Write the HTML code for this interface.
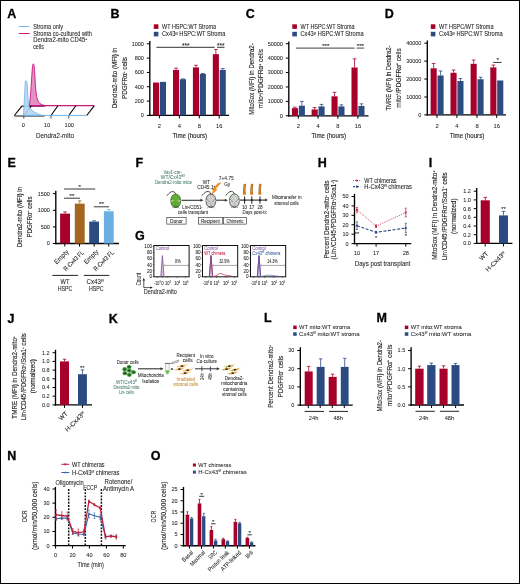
<!DOCTYPE html>
<html><head><meta charset="utf-8"><style>
html,body{margin:0;padding:0;background:#fff;}
svg{display:block;will-change:transform;}
</style></head><body>
<svg width="520" height="584" viewBox="0 0 520 584" font-family="'Liberation Sans', sans-serif" font-size="5.5" fill="#231f20">
<rect x="0" y="0" width="520" height="584" fill="#fff"/>
<text x="7.3" y="17.6" font-weight="bold" fill="#000" font-size="12.5" stroke="#000" stroke-width="0.3">A</text>
<line x1="18.8" y1="26.5" x2="29.6" y2="26.5" stroke="#7fb6e6" stroke-width="1"/>
<line x1="18.8" y1="33.5" x2="29.6" y2="33.5" stroke="#cc1f86" stroke-width="1"/>
<text x="33.2" y="28.8" stroke="#231f20" stroke-width="0.08" textLength="29.8" lengthAdjust="spacingAndGlyphs" font-size="6.27">Stroma only</text>
<text x="33.2" y="35.6" stroke="#231f20" stroke-width="0.08" textLength="58.7" lengthAdjust="spacingAndGlyphs" font-size="6.27">Stroma co-cultured with</text>
<text x="33.2" y="42.3" stroke="#231f20" stroke-width="0.08" textLength="54" lengthAdjust="spacingAndGlyphs" font-size="6.27">Dendra2-mito CD45<tspan font-size="3.6" dy="-2">+</tspan></text>
<text x="33.2" y="49.1" stroke="#231f20" stroke-width="0.08" textLength="10.6" lengthAdjust="spacingAndGlyphs" font-size="6.27">cells</text>
<line x1="22.1" y1="106.1" x2="44.5" y2="106.1" stroke="#000" stroke-width="1"/>
<path d="M29.3 105.8 C30.3 100 31.2 85 32.2 70 C32.6 64 33.0 63.8 33.4 63.8 C34.0 63.8 34.4 68 34.9 76 C35.5 88 36.2 96 37.6 100 C39 103.4 41 104.8 44.5 105.4 L46 105.8 Z" fill="#e591c3" stroke="#c8197f" stroke-width="0.9"/>
<line x1="29.3" y1="105.6" x2="94.4" y2="105.6" stroke="#c8197f" stroke-width="1.1"/>
<line x1="14.3" y1="115.5" x2="22.1" y2="105.8" stroke="#000" stroke-width="1.1"/>
<line x1="23.8" y1="115.5" x2="31.3" y2="105.8" stroke="#000" stroke-width="1.1"/>
<line x1="23.8" y1="115.5" x2="23.8" y2="118.6" stroke="#222" stroke-width="0.8"/>
<line x1="51" y1="115.5" x2="57.9" y2="105.8" stroke="#000" stroke-width="1.1"/>
<line x1="51" y1="115.5" x2="51" y2="118.6" stroke="#222" stroke-width="0.8"/>
<line x1="68.8" y1="115.5" x2="75.8" y2="105.8" stroke="#000" stroke-width="1.1"/>
<line x1="68.8" y1="115.5" x2="68.8" y2="118.6" stroke="#222" stroke-width="0.8"/>
<line x1="86.7" y1="115.5" x2="94.2" y2="105.8" stroke="#000" stroke-width="1.1"/>
<line x1="14.3" y1="116" x2="44.6" y2="116" stroke="#111" stroke-width="1"/>
<path d="M23.3 115.5 C24 110 24.6 92 25.3 82 C25.6 80.3 26.2 80.3 26.5 81.5 C27 83 27.3 84 27.5 88 C27.8 96 28.2 103 29 106.5 C30 109 32 110.5 34.5 112 C37 113.6 39 114.6 41.5 115.2 Z" fill="#b3d5f2" fill-opacity="0.9" stroke="#72b2e6" stroke-width="0.8"/>
<line x1="23.3" y1="115.4" x2="86.7" y2="115.4" stroke="#72b2e6" stroke-width="1"/>
<text x="23.2" y="127.06" stroke="#231f20" stroke-width="0.06" font-size="5.6" text-anchor="middle">0</text>
<text x="47" y="127.06" stroke="#231f20" stroke-width="0.06" textLength="6.2" lengthAdjust="spacingAndGlyphs" font-size="5.6" text-anchor="middle">10</text>
<text x="69.2" y="127.06" stroke="#231f20" stroke-width="0.06" textLength="9.3" lengthAdjust="spacingAndGlyphs" font-size="5.6" text-anchor="middle">100</text>
<text x="54.9" y="137.77" stroke="#231f20" stroke-width="0.08" textLength="38" lengthAdjust="spacingAndGlyphs" font-size="7.06" text-anchor="middle">Dendra2-mito</text>
<text x="110.6" y="17.6" font-weight="bold" fill="#000" font-size="12.5" stroke="#000" stroke-width="0.3">B</text>
<rect x="153.8" y="24.3" width="4.6" height="4.6" fill="#a6002b"/>
<rect x="153.8" y="31.8" width="4.6" height="4.6" fill="#2c4b80"/>
<text x="162" y="28.87" stroke="#231f20" stroke-width="0.08" textLength="54" lengthAdjust="spacingAndGlyphs" font-size="6.5">WT HSPC:WT Stroma</text>
<text x="162" y="36.37" stroke="#231f20" stroke-width="0.08" textLength="63.4" lengthAdjust="spacingAndGlyphs" font-size="6.5">Cx43<tspan font-size="3.3" dy="-1.8">f/f</tspan><tspan dy="1.8"> </tspan>HSPC:WT Stroma</text>
<line x1="149.8" y1="41" x2="149.8" y2="116.08" stroke="#000" stroke-width="1.35"/>
<line x1="149.12" y1="115.4" x2="229" y2="115.4" stroke="#000" stroke-width="1.35"/>
<line x1="146.8" y1="115.4" x2="149.8" y2="115.4" stroke="#000" stroke-width="1"/>
<text x="143.9" y="117.32" stroke="#231f20" stroke-width="0.06" font-size="5.49" text-anchor="end">0</text>
<line x1="146.8" y1="101.08" x2="149.8" y2="101.08" stroke="#000" stroke-width="1"/>
<text x="143.9" y="103" stroke="#231f20" stroke-width="0.06" font-size="5.49" text-anchor="end">200</text>
<line x1="146.8" y1="86.76" x2="149.8" y2="86.76" stroke="#000" stroke-width="1"/>
<text x="143.9" y="88.68" stroke="#231f20" stroke-width="0.06" font-size="5.49" text-anchor="end">400</text>
<line x1="146.8" y1="72.44" x2="149.8" y2="72.44" stroke="#000" stroke-width="1"/>
<text x="143.9" y="74.36" stroke="#231f20" stroke-width="0.06" font-size="5.49" text-anchor="end">600</text>
<line x1="146.8" y1="58.12" x2="149.8" y2="58.12" stroke="#000" stroke-width="1"/>
<text x="143.9" y="60.04" stroke="#231f20" stroke-width="0.06" font-size="5.49" text-anchor="end">800</text>
<line x1="146.8" y1="43.8" x2="149.8" y2="43.8" stroke="#000" stroke-width="1"/>
<text x="143.9" y="45.72" stroke="#231f20" stroke-width="0.06" font-size="5.49" text-anchor="end">1000</text>
<line x1="159.4" y1="115.4" x2="159.4" y2="118.4" stroke="#000" stroke-width="1"/>
<line x1="179.4" y1="115.4" x2="179.4" y2="118.4" stroke="#000" stroke-width="1"/>
<line x1="199.3" y1="115.4" x2="199.3" y2="118.4" stroke="#000" stroke-width="1"/>
<line x1="219.2" y1="115.4" x2="219.2" y2="118.4" stroke="#000" stroke-width="1"/>
<rect x="153" y="82.54" width="6.1" height="32.86" fill="#a6002b"/>
<rect x="159.9" y="81.89" width="6.1" height="33.51" fill="#2c4b80"/>
<rect x="173" y="69.93" width="6.1" height="45.47" fill="#a6002b"/>
<line x1="176.05" y1="69.93" x2="176.05" y2="68.14" stroke="#a6002b" stroke-width="0.8"/>
<line x1="174.22" y1="68.14" x2="177.88" y2="68.14" stroke="#a6002b" stroke-width="0.8"/>
<rect x="179.9" y="79.24" width="6.1" height="36.16" fill="#2c4b80"/>
<line x1="182.95" y1="79.24" x2="182.95" y2="78.88" stroke="#2c4b80" stroke-width="0.8"/>
<line x1="181.12" y1="78.88" x2="184.78" y2="78.88" stroke="#2c4b80" stroke-width="0.8"/>
<rect x="192.9" y="67.43" width="6.1" height="47.97" fill="#a6002b"/>
<line x1="195.95" y1="67.43" x2="195.95" y2="65.28" stroke="#a6002b" stroke-width="0.8"/>
<line x1="194.12" y1="65.28" x2="197.78" y2="65.28" stroke="#a6002b" stroke-width="0.8"/>
<rect x="199.8" y="73.87" width="6.1" height="41.53" fill="#2c4b80"/>
<line x1="202.85" y1="73.87" x2="202.85" y2="73.51" stroke="#2c4b80" stroke-width="0.8"/>
<line x1="201.02" y1="73.51" x2="204.68" y2="73.51" stroke="#2c4b80" stroke-width="0.8"/>
<rect x="212.8" y="54.18" width="6.1" height="61.22" fill="#a6002b"/>
<line x1="215.85" y1="54.18" x2="215.85" y2="49.53" stroke="#a6002b" stroke-width="0.8"/>
<line x1="214.02" y1="49.53" x2="217.68" y2="49.53" stroke="#a6002b" stroke-width="0.8"/>
<rect x="219.7" y="69.93" width="6.1" height="45.47" fill="#2c4b80"/>
<line x1="222.75" y1="69.93" x2="222.75" y2="68.5" stroke="#2c4b80" stroke-width="0.8"/>
<line x1="220.92" y1="68.5" x2="224.58" y2="68.5" stroke="#2c4b80" stroke-width="0.8"/>
<line x1="156.4" y1="47.3" x2="214.7" y2="47.3" stroke="#333" stroke-width="1"/>
<text x="185.8" y="47.87" stroke="#231f20" stroke-width="0.08" font-size="6.5" text-anchor="middle">***</text>
<line x1="217.1" y1="47.3" x2="224.5" y2="47.3" stroke="#333" stroke-width="1"/>
<text x="220.8" y="47.87" stroke="#231f20" stroke-width="0.08" font-size="6.5" text-anchor="middle">***</text>
<text x="0" y="2.67" stroke="#231f20" stroke-width="0.14" textLength="60.7" lengthAdjust="spacingAndGlyphs" font-size="7.62" text-anchor="middle" transform="translate(114.75 78) rotate(-90)">Dendra2-mito (MFI) in</text>
<text x="0" y="2.67" stroke="#231f20" stroke-width="0.14" textLength="42" lengthAdjust="spacingAndGlyphs" font-size="7.62" text-anchor="middle" transform="translate(124.2 78) rotate(-90)">PDGFR&#945;<tspan font-size="3.8" dy="-2.2">+</tspan><tspan dy="2.2"> cells</tspan></text>
<text x="159.4" y="127.84" stroke="#231f20" stroke-width="0.06" font-size="5.82" text-anchor="middle">2</text>
<text x="179.4" y="127.84" stroke="#231f20" stroke-width="0.06" font-size="5.82" text-anchor="middle">4</text>
<text x="199.3" y="127.84" stroke="#231f20" stroke-width="0.06" font-size="5.82" text-anchor="middle">8</text>
<text x="219.2" y="127.84" stroke="#231f20" stroke-width="0.06" font-size="5.82" text-anchor="middle">16</text>
<text x="189.8" y="137.97" stroke="#231f20" stroke-width="0.14" textLength="34.6" lengthAdjust="spacingAndGlyphs" font-size="7.62" text-anchor="middle">Time (hours)</text>
<text x="245.8" y="17.6" font-weight="bold" fill="#000" font-size="12.5" stroke="#000" stroke-width="0.3">C</text>
<rect x="292.3" y="24.3" width="4.6" height="4.6" fill="#a6002b"/>
<rect x="292.3" y="31.8" width="4.6" height="4.6" fill="#2c4b80"/>
<text x="300.5" y="28.87" stroke="#231f20" stroke-width="0.08" textLength="54" lengthAdjust="spacingAndGlyphs" font-size="6.5">WT HSPC:WT Stroma</text>
<text x="300.5" y="36.37" stroke="#231f20" stroke-width="0.08" textLength="63.1" lengthAdjust="spacingAndGlyphs" font-size="6.5">Cx43<tspan font-size="3.3" dy="-1.8">f/f</tspan><tspan dy="1.8"> </tspan>HSPC:WT Stroma</text>
<line x1="288.8" y1="41.5" x2="288.8" y2="116.47" stroke="#000" stroke-width="1.35"/>
<line x1="288.12" y1="115.8" x2="368.5" y2="115.8" stroke="#000" stroke-width="1.35"/>
<line x1="285.8" y1="115.8" x2="288.8" y2="115.8" stroke="#000" stroke-width="1"/>
<text x="282.9" y="117.72" stroke="#231f20" stroke-width="0.06" font-size="5.49" text-anchor="end">0</text>
<line x1="285.8" y1="101.38" x2="288.8" y2="101.38" stroke="#000" stroke-width="1"/>
<text x="282.9" y="103.3" stroke="#231f20" stroke-width="0.06" font-size="5.49" text-anchor="end">10000</text>
<line x1="285.8" y1="86.96" x2="288.8" y2="86.96" stroke="#000" stroke-width="1"/>
<text x="282.9" y="88.88" stroke="#231f20" stroke-width="0.06" font-size="5.49" text-anchor="end">20000</text>
<line x1="285.8" y1="72.54" x2="288.8" y2="72.54" stroke="#000" stroke-width="1"/>
<text x="282.9" y="74.46" stroke="#231f20" stroke-width="0.06" font-size="5.49" text-anchor="end">30000</text>
<line x1="285.8" y1="58.12" x2="288.8" y2="58.12" stroke="#000" stroke-width="1"/>
<text x="282.9" y="60.04" stroke="#231f20" stroke-width="0.06" font-size="5.49" text-anchor="end">40000</text>
<line x1="285.8" y1="43.7" x2="288.8" y2="43.7" stroke="#000" stroke-width="1"/>
<text x="282.9" y="45.62" stroke="#231f20" stroke-width="0.06" font-size="5.49" text-anchor="end">50000</text>
<line x1="298.3" y1="115.8" x2="298.3" y2="118.8" stroke="#000" stroke-width="1"/>
<line x1="318" y1="115.8" x2="318" y2="118.8" stroke="#000" stroke-width="1"/>
<line x1="337.9" y1="115.8" x2="337.9" y2="118.8" stroke="#000" stroke-width="1"/>
<line x1="357.9" y1="115.8" x2="357.9" y2="118.8" stroke="#000" stroke-width="1"/>
<rect x="291.9" y="108.16" width="6.1" height="7.64" fill="#a6002b"/>
<line x1="294.95" y1="108.16" x2="294.95" y2="107.15" stroke="#a6002b" stroke-width="0.8"/>
<line x1="293.12" y1="107.15" x2="296.78" y2="107.15" stroke="#a6002b" stroke-width="0.8"/>
<rect x="298.8" y="105.71" width="6.1" height="10.09" fill="#2c4b80"/>
<line x1="301.85" y1="105.71" x2="301.85" y2="101.38" stroke="#2c4b80" stroke-width="0.8"/>
<line x1="300.02" y1="101.38" x2="303.68" y2="101.38" stroke="#2c4b80" stroke-width="0.8"/>
<rect x="311.6" y="109.46" width="6.1" height="6.34" fill="#a6002b"/>
<line x1="314.65" y1="109.46" x2="314.65" y2="107.58" stroke="#a6002b" stroke-width="0.8"/>
<line x1="312.82" y1="107.58" x2="316.48" y2="107.58" stroke="#a6002b" stroke-width="0.8"/>
<rect x="318.5" y="106.43" width="6.1" height="9.37" fill="#2c4b80"/>
<line x1="321.55" y1="106.43" x2="321.55" y2="104.41" stroke="#2c4b80" stroke-width="0.8"/>
<line x1="319.72" y1="104.41" x2="323.38" y2="104.41" stroke="#2c4b80" stroke-width="0.8"/>
<rect x="331.5" y="96.33" width="6.1" height="19.47" fill="#a6002b"/>
<line x1="334.55" y1="96.33" x2="334.55" y2="92.3" stroke="#a6002b" stroke-width="0.8"/>
<line x1="332.72" y1="92.3" x2="336.38" y2="92.3" stroke="#a6002b" stroke-width="0.8"/>
<rect x="338.4" y="106.43" width="6.1" height="9.37" fill="#2c4b80"/>
<line x1="341.45" y1="106.43" x2="341.45" y2="104.84" stroke="#2c4b80" stroke-width="0.8"/>
<line x1="339.62" y1="104.84" x2="343.28" y2="104.84" stroke="#2c4b80" stroke-width="0.8"/>
<rect x="351.5" y="67.49" width="6.1" height="48.31" fill="#a6002b"/>
<line x1="354.55" y1="67.49" x2="354.55" y2="58.84" stroke="#a6002b" stroke-width="0.8"/>
<line x1="352.72" y1="58.84" x2="356.38" y2="58.84" stroke="#a6002b" stroke-width="0.8"/>
<rect x="358.4" y="105.99" width="6.1" height="9.81" fill="#2c4b80"/>
<line x1="361.45" y1="105.99" x2="361.45" y2="103.83" stroke="#2c4b80" stroke-width="0.8"/>
<line x1="359.62" y1="103.83" x2="363.28" y2="103.83" stroke="#2c4b80" stroke-width="0.8"/>
<line x1="296" y1="48.1" x2="354.6" y2="48.1" stroke="#666" stroke-width="1.2"/>
<text x="325.8" y="47.76" stroke="#231f20" stroke-width="0.08" font-size="6.16" text-anchor="middle">***</text>
<line x1="356.5" y1="48.1" x2="364.2" y2="48.1" stroke="#666" stroke-width="1.2"/>
<text x="360.4" y="47.76" stroke="#231f20" stroke-width="0.08" font-size="6.16" text-anchor="middle">***</text>
<text x="0" y="2.67" stroke="#231f20" stroke-width="0.14" textLength="71.3" lengthAdjust="spacingAndGlyphs" font-size="7.62" text-anchor="middle" transform="translate(251.4 79) rotate(-90)">MitoSox (MFI) in Dendra2-</text>
<text x="0" y="2.67" stroke="#231f20" stroke-width="0.14" textLength="59.6" lengthAdjust="spacingAndGlyphs" font-size="7.62" text-anchor="middle" transform="translate(260.3 78.7) rotate(-90)">mito<tspan font-size="3.8" dy="-2.2">+</tspan><tspan dy="2.2">/PDGFR&#945;</tspan><tspan font-size="3.8" dy="-2.2">+</tspan><tspan dy="2.2"> cells</tspan></text>
<text x="298.3" y="127.84" stroke="#231f20" stroke-width="0.06" font-size="5.82" text-anchor="middle">2</text>
<text x="318" y="127.84" stroke="#231f20" stroke-width="0.06" font-size="5.82" text-anchor="middle">4</text>
<text x="337.9" y="127.84" stroke="#231f20" stroke-width="0.06" font-size="5.82" text-anchor="middle">8</text>
<text x="357.9" y="127.84" stroke="#231f20" stroke-width="0.06" font-size="5.82" text-anchor="middle">16</text>
<text x="328.8" y="137.97" stroke="#231f20" stroke-width="0.14" textLength="34.6" lengthAdjust="spacingAndGlyphs" font-size="7.62" text-anchor="middle">Time (hours)</text>
<text x="384.8" y="17.6" font-weight="bold" fill="#000" font-size="12.5" stroke="#000" stroke-width="0.3">D</text>
<rect x="430.8" y="24.3" width="4.6" height="4.6" fill="#a6002b"/>
<rect x="430.8" y="31.8" width="4.6" height="4.6" fill="#2c4b80"/>
<text x="439" y="28.87" stroke="#231f20" stroke-width="0.08" textLength="54.5" lengthAdjust="spacingAndGlyphs" font-size="6.5">WT HSPC/WT Stroma</text>
<text x="439" y="36.37" stroke="#231f20" stroke-width="0.08" textLength="63.7" lengthAdjust="spacingAndGlyphs" font-size="6.5">Cx43<tspan font-size="3.3" dy="-1.8">f/f</tspan><tspan dy="1.8"> </tspan>HSPC:WT Stroma</text>
<line x1="427.3" y1="40.4" x2="427.3" y2="115.58" stroke="#000" stroke-width="1.35"/>
<line x1="426.62" y1="114.9" x2="506" y2="114.9" stroke="#000" stroke-width="1.35"/>
<line x1="424.3" y1="114.9" x2="427.3" y2="114.9" stroke="#000" stroke-width="1"/>
<text x="421.4" y="116.82" stroke="#231f20" stroke-width="0.06" font-size="5.49" text-anchor="end">0</text>
<line x1="424.3" y1="96.98" x2="427.3" y2="96.98" stroke="#000" stroke-width="1"/>
<text x="421.4" y="98.9" stroke="#231f20" stroke-width="0.06" font-size="5.49" text-anchor="end">10000</text>
<line x1="424.3" y1="79.05" x2="427.3" y2="79.05" stroke="#000" stroke-width="1"/>
<text x="421.4" y="80.97" stroke="#231f20" stroke-width="0.06" font-size="5.49" text-anchor="end">20000</text>
<line x1="424.3" y1="61.13" x2="427.3" y2="61.13" stroke="#000" stroke-width="1"/>
<text x="421.4" y="63.05" stroke="#231f20" stroke-width="0.06" font-size="5.49" text-anchor="end">30000</text>
<line x1="424.3" y1="43.2" x2="427.3" y2="43.2" stroke="#000" stroke-width="1"/>
<text x="421.4" y="45.12" stroke="#231f20" stroke-width="0.06" font-size="5.49" text-anchor="end">40000</text>
<line x1="437" y1="114.9" x2="437" y2="117.9" stroke="#000" stroke-width="1"/>
<line x1="456.9" y1="114.9" x2="456.9" y2="117.9" stroke="#000" stroke-width="1"/>
<line x1="477" y1="114.9" x2="477" y2="117.9" stroke="#000" stroke-width="1"/>
<line x1="496.7" y1="114.9" x2="496.7" y2="117.9" stroke="#000" stroke-width="1"/>
<rect x="430.6" y="68.3" width="6.1" height="46.61" fill="#a6002b"/>
<line x1="433.65" y1="68.3" x2="433.65" y2="63.46" stroke="#a6002b" stroke-width="0.8"/>
<line x1="431.82" y1="63.46" x2="435.48" y2="63.46" stroke="#a6002b" stroke-width="0.8"/>
<rect x="437.5" y="75.47" width="6.1" height="39.44" fill="#2c4b80"/>
<line x1="440.55" y1="75.47" x2="440.55" y2="70.98" stroke="#2c4b80" stroke-width="0.8"/>
<line x1="438.72" y1="70.98" x2="442.38" y2="70.98" stroke="#2c4b80" stroke-width="0.8"/>
<rect x="450.5" y="72.78" width="6.1" height="42.12" fill="#a6002b"/>
<line x1="453.55" y1="72.78" x2="453.55" y2="70.09" stroke="#a6002b" stroke-width="0.8"/>
<line x1="451.72" y1="70.09" x2="455.38" y2="70.09" stroke="#a6002b" stroke-width="0.8"/>
<rect x="457.4" y="81.02" width="6.1" height="33.88" fill="#2c4b80"/>
<line x1="460.45" y1="81.02" x2="460.45" y2="78.51" stroke="#2c4b80" stroke-width="0.8"/>
<line x1="458.62" y1="78.51" x2="462.28" y2="78.51" stroke="#2c4b80" stroke-width="0.8"/>
<rect x="470.6" y="63.81" width="6.1" height="51.09" fill="#a6002b"/>
<line x1="473.65" y1="63.81" x2="473.65" y2="60.05" stroke="#a6002b" stroke-width="0.8"/>
<line x1="471.82" y1="60.05" x2="475.48" y2="60.05" stroke="#a6002b" stroke-width="0.8"/>
<rect x="477.5" y="79.23" width="6.1" height="35.67" fill="#2c4b80"/>
<line x1="480.55" y1="79.23" x2="480.55" y2="77.26" stroke="#2c4b80" stroke-width="0.8"/>
<line x1="478.72" y1="77.26" x2="482.38" y2="77.26" stroke="#2c4b80" stroke-width="0.8"/>
<rect x="490.3" y="67.4" width="6.1" height="47.5" fill="#a6002b"/>
<line x1="493.35" y1="67.4" x2="493.35" y2="65.07" stroke="#a6002b" stroke-width="0.8"/>
<line x1="491.52" y1="65.07" x2="495.18" y2="65.07" stroke="#a6002b" stroke-width="0.8"/>
<rect x="497.2" y="80.48" width="6.1" height="34.42" fill="#2c4b80"/>
<line x1="493.1" y1="62.4" x2="501.7" y2="62.4" stroke="#222" stroke-width="0.9"/>
<text x="497.6" y="61.76" stroke="#231f20" stroke-width="0.08" font-size="6.16" text-anchor="middle">*</text>
<text x="0" y="2.67" stroke="#231f20" stroke-width="0.14" textLength="65" lengthAdjust="spacingAndGlyphs" font-size="7.62" text-anchor="middle" transform="translate(388.4 78) rotate(-90)">TMRE (MFI) in Dendra2-</text>
<text x="0" y="2.67" stroke="#231f20" stroke-width="0.14" textLength="59.6" lengthAdjust="spacingAndGlyphs" font-size="7.62" text-anchor="middle" transform="translate(398 78) rotate(-90)">mito<tspan font-size="3.8" dy="-2.2">+</tspan><tspan dy="2.2">/PDGFR&#945;</tspan><tspan font-size="3.8" dy="-2.2">+</tspan><tspan dy="2.2"> cells</tspan></text>
<text x="437" y="127.84" stroke="#231f20" stroke-width="0.06" font-size="5.82" text-anchor="middle">2</text>
<text x="456.9" y="127.84" stroke="#231f20" stroke-width="0.06" font-size="5.82" text-anchor="middle">4</text>
<text x="477" y="127.84" stroke="#231f20" stroke-width="0.06" font-size="5.82" text-anchor="middle">8</text>
<text x="496.7" y="127.84" stroke="#231f20" stroke-width="0.06" font-size="5.82" text-anchor="middle">16</text>
<text x="467" y="137.97" stroke="#231f20" stroke-width="0.14" textLength="34.6" lengthAdjust="spacingAndGlyphs" font-size="7.62" text-anchor="middle">Time (hours)</text>
<text x="7.4" y="166.8" font-weight="bold" fill="#000" font-size="12.5" stroke="#000" stroke-width="0.3">E</text>
<line x1="55.8" y1="190.8" x2="55.8" y2="244.18" stroke="#000" stroke-width="1.35"/>
<line x1="55.12" y1="243.5" x2="119" y2="243.5" stroke="#000" stroke-width="1.35"/>
<line x1="52.8" y1="243.5" x2="55.8" y2="243.5" stroke="#000" stroke-width="1"/>
<text x="49.9" y="245.42" stroke="#231f20" stroke-width="0.06" font-size="5.49" text-anchor="end">0</text>
<line x1="52.8" y1="226.9" x2="55.8" y2="226.9" stroke="#000" stroke-width="1"/>
<text x="49.9" y="228.82" stroke="#231f20" stroke-width="0.06" font-size="5.49" text-anchor="end">500</text>
<line x1="52.8" y1="210.3" x2="55.8" y2="210.3" stroke="#000" stroke-width="1"/>
<text x="49.9" y="212.22" stroke="#231f20" stroke-width="0.06" font-size="5.49" text-anchor="end">1000</text>
<line x1="52.8" y1="193.7" x2="55.8" y2="193.7" stroke="#000" stroke-width="1"/>
<text x="49.9" y="195.62" stroke="#231f20" stroke-width="0.06" font-size="5.49" text-anchor="end">1500</text>
<line x1="64.8" y1="243.5" x2="64.8" y2="246.5" stroke="#000" stroke-width="1"/>
<line x1="79.5" y1="243.5" x2="79.5" y2="246.5" stroke="#000" stroke-width="1"/>
<line x1="94.2" y1="243.5" x2="94.2" y2="246.5" stroke="#000" stroke-width="1"/>
<line x1="108.7" y1="243.5" x2="108.7" y2="246.5" stroke="#000" stroke-width="1"/>
<rect x="60.1" y="213.62" width="9.9" height="29.88" fill="#a6002b"/>
<line x1="65.05" y1="213.62" x2="65.05" y2="211.96" stroke="#a6002b" stroke-width="0.8"/>
<line x1="63.3" y1="211.96" x2="66.8" y2="211.96" stroke="#a6002b" stroke-width="0.8"/>
<rect x="74.8" y="203.66" width="9.9" height="39.84" fill="#a5651f"/>
<line x1="79.75" y1="203.66" x2="79.75" y2="200.84" stroke="#a5651f" stroke-width="0.8"/>
<line x1="78" y1="200.84" x2="81.5" y2="200.84" stroke="#a5651f" stroke-width="0.8"/>
<rect x="89.2" y="221.59" width="9.8" height="21.91" fill="#2c4b80"/>
<line x1="94.1" y1="221.59" x2="94.1" y2="220.76" stroke="#2c4b80" stroke-width="0.8"/>
<line x1="92.35" y1="220.76" x2="95.85" y2="220.76" stroke="#2c4b80" stroke-width="0.8"/>
<rect x="103.9" y="211.3" width="9.8" height="32.2" fill="#6aaee2"/>
<line x1="108.8" y1="211.3" x2="108.8" y2="209.47" stroke="#6aaee2" stroke-width="0.8"/>
<line x1="107.05" y1="209.47" x2="110.55" y2="209.47" stroke="#6aaee2" stroke-width="0.8"/>
<line x1="64.1" y1="189" x2="95.2" y2="189" stroke="#222" stroke-width="0.9"/>
<text x="79.7" y="188.66" stroke="#231f20" stroke-width="0.08" font-size="6.16" text-anchor="middle">*</text>
<line x1="64.1" y1="198.2" x2="80" y2="198.2" stroke="#222" stroke-width="0.9"/>
<text x="72" y="197.86" stroke="#231f20" stroke-width="0.08" font-size="6.16" text-anchor="middle">**</text>
<line x1="93.8" y1="206.8" x2="109" y2="206.8" stroke="#222" stroke-width="0.9"/>
<text x="101.4" y="206.46" stroke="#231f20" stroke-width="0.08" font-size="6.16" text-anchor="middle">**</text>
<text x="0" y="2.67" stroke="#231f20" stroke-width="0.14" textLength="60.3" lengthAdjust="spacingAndGlyphs" font-size="7.62" text-anchor="middle" transform="translate(19.7 217) rotate(-90)">Dendra2-mito (MFI) in</text>
<text x="0" y="2.67" stroke="#231f20" stroke-width="0.14" textLength="41" lengthAdjust="spacingAndGlyphs" font-size="7.62" text-anchor="middle" transform="translate(29 217) rotate(-90)">PDGFR&#945;<tspan font-size="3.8" dy="-2.2">+</tspan><tspan dy="2.2"> cells</tspan></text>
<text x="0" y="2.27" stroke="#231f20" stroke-width="0.08" textLength="17.5" lengthAdjust="spacingAndGlyphs" font-size="6.5" text-anchor="end" transform="translate(67.5 250.6) rotate(-45)">Empty</text>
<text x="0" y="2.27" stroke="#231f20" stroke-width="0.08" textLength="26" lengthAdjust="spacingAndGlyphs" font-size="6.5" text-anchor="end" transform="translate(82.7 251.4) rotate(-45)">R-Cx43 FL</text>
<text x="0" y="2.27" stroke="#231f20" stroke-width="0.08" textLength="17.5" lengthAdjust="spacingAndGlyphs" font-size="6.5" text-anchor="end" transform="translate(97.2 250.6) rotate(-45)">Empty</text>
<text x="0" y="2.27" stroke="#231f20" stroke-width="0.08" textLength="26" lengthAdjust="spacingAndGlyphs" font-size="6.5" text-anchor="end" transform="translate(112.7 251.4) rotate(-45)">R-Cx43 FL</text>
<line x1="52.4" y1="275.4" x2="78.1" y2="275.4" stroke="#222" stroke-width="1"/>
<line x1="83.8" y1="275.4" x2="109.3" y2="275.4" stroke="#222" stroke-width="1"/>
<text x="65" y="283.85" stroke="#231f20" stroke-width="0.08" textLength="9" lengthAdjust="spacingAndGlyphs" font-size="6.72" text-anchor="middle">WT</text>
<text x="65" y="290.85" stroke="#231f20" stroke-width="0.08" textLength="14.6" lengthAdjust="spacingAndGlyphs" font-size="6.72" text-anchor="middle">HSPC</text>
<text x="95" y="283.85" stroke="#231f20" stroke-width="0.08" textLength="17" lengthAdjust="spacingAndGlyphs" font-size="6.72" text-anchor="middle">Cx43<tspan font-size="3.3" dy="-1.8">f/f</tspan></text>
<text x="96.2" y="290.85" stroke="#231f20" stroke-width="0.08" textLength="14.6" lengthAdjust="spacingAndGlyphs" font-size="6.72" text-anchor="middle">HSPC</text>
<text x="135.5" y="166.8" font-weight="bold" fill="#000" font-size="12.5" stroke="#000" stroke-width="0.3">F</text>
<text x="172.7" y="173.76" stroke="#4d7f70" stroke-width="0.06" textLength="18.5" lengthAdjust="spacingAndGlyphs" fill="#4d7f70" font-size="5.6" text-anchor="middle">Vav1-cre-</text>
<text x="172.8" y="178.86" stroke="#4d7f70" stroke-width="0.06" textLength="24" lengthAdjust="spacingAndGlyphs" fill="#4d7f70" font-size="5.6" text-anchor="middle">WT/Cx43<tspan font-size="3.2" dy="-1.8">fl/fl</tspan></text>
<text x="173.4" y="184.26" stroke="#4d7f70" stroke-width="0.06" textLength="37" lengthAdjust="spacingAndGlyphs" fill="#4d7f70" font-size="5.6" text-anchor="middle">Dendra2-mito mice</text>
<path d="M175.7 194.4 C175.3 192 173.3 191.2 171.3 191.8 C169.3 192.4 168.2 195 166.6 195.6" fill="none" stroke="#222" stroke-width="0.85"/>
<path d="M175.7 194.2 C179.1 194.2 180.6 197.6 180.6 200.6 C180.6 204 179.1 207.6 175.7 207.6 C172.3 207.6 170.8 204 170.8 200.6 C170.8 197.6 172.3 194.2 175.7 194.2 Z" fill="#62ad3a" stroke="#2c5a1a" stroke-width="0.75"/>
<ellipse cx="172.5" cy="200.7" rx="1.6" ry="0.9" fill="#eedc96"/>
<path d="M171.1 199.4 Q173.1 200 174.2 202.2" stroke="#2c5a1a" stroke-width="0.45" fill="none"/>
<path d="M171.9 208.2 L173.5 207" stroke="#333" stroke-width="0.45" fill="none"/>
<ellipse cx="178.9" cy="200.7" rx="1.6" ry="0.9" fill="#eedc96"/>
<path d="M180.3 199.4 Q178.3 200 177.2 202.2" stroke="#2c5a1a" stroke-width="0.45" fill="none"/>
<path d="M179.5 208.2 L177.9 207" stroke="#333" stroke-width="0.45" fill="none"/>
<path d="M173.7 206.4 Q175.7 208 177.7 206.4" stroke="#222" stroke-width="0.6" fill="none"/>
<path d="M175.7 203 L175.7 206" stroke="#2c5a1a" stroke-width="0.4" opacity="0.6"/>
<path d="M210.9 194.3 C210.5 191.9 208.5 191.1 206.5 191.7 C204.5 192.3 203.3 194.8 201.7 195.4" fill="none" stroke="#222" stroke-width="0.85"/>
<path d="M210.9 194.1 C214.3 194.1 215.8 197.5 215.8 200.5 C215.8 203.9 214.3 207.5 210.9 207.5 C207.5 207.5 206 203.9 206 200.5 C206 197.5 207.5 194.1 210.9 194.1 Z" fill="#cdcdcd" stroke="#333" stroke-width="0.75"/>
<ellipse cx="207.7" cy="200.6" rx="1.6" ry="0.9" fill="#e4e4e4"/>
<path d="M206.3 199.3 Q208.3 199.9 209.4 202.1" stroke="#333" stroke-width="0.45" fill="none"/>
<path d="M207.1 208.1 L208.7 206.9" stroke="#333" stroke-width="0.45" fill="none"/>
<ellipse cx="214.1" cy="200.6" rx="1.6" ry="0.9" fill="#e4e4e4"/>
<path d="M215.5 199.3 Q213.5 199.9 212.4 202.1" stroke="#333" stroke-width="0.45" fill="none"/>
<path d="M214.7 208.1 L213.1 206.9" stroke="#333" stroke-width="0.45" fill="none"/>
<path d="M208.9 206.3 Q210.9 207.9 212.9 206.3" stroke="#222" stroke-width="0.6" fill="none"/>
<path d="M210.9 202.9 L210.9 205.9" stroke="#333" stroke-width="0.4" opacity="0.6"/>
<path d="M234.4 194.2 C234 191.8 232 191 230 191.6 C228 192.2 227.2 194.8 225.6 195.4" fill="none" stroke="#222" stroke-width="0.85"/>
<path d="M234.4 194 C237.8 194 239.3 197.4 239.3 200.4 C239.3 203.8 237.8 207.4 234.4 207.4 C231 207.4 229.5 203.8 229.5 200.4 C229.5 197.4 231 194 234.4 194 Z" fill="#d2d2d2" stroke="#333" stroke-width="0.75"/>
<ellipse cx="231.2" cy="200.5" rx="1.6" ry="0.9" fill="#e4e4e4"/>
<path d="M229.8 199.2 Q231.8 199.8 232.9 202" stroke="#333" stroke-width="0.45" fill="none"/>
<path d="M230.6 208 L232.2 206.8" stroke="#333" stroke-width="0.45" fill="none"/>
<ellipse cx="237.6" cy="200.5" rx="1.6" ry="0.9" fill="#e4e4e4"/>
<path d="M239 199.2 Q237 199.8 235.9 202" stroke="#333" stroke-width="0.45" fill="none"/>
<path d="M238.2 208 L236.6 206.8" stroke="#333" stroke-width="0.45" fill="none"/>
<path d="M232.4 206.2 Q234.4 207.8 236.4 206.2" stroke="#222" stroke-width="0.6" fill="none"/>
<path d="M234.4 202.8 L234.4 205.8" stroke="#333" stroke-width="0.4" opacity="0.6"/>
<circle cx="232.4" cy="196.9" r="0.6" fill="#8fd07a"/>
<circle cx="235.9" cy="196.2" r="0.6" fill="#8fd07a"/>
<circle cx="236.9" cy="198.8" r="0.6" fill="#8fd07a"/>
<circle cx="233.4" cy="199.2" r="0.6" fill="#8fd07a"/>
<circle cx="234.9" cy="202.2" r="0.6" fill="#8fd07a"/>
<circle cx="231.8" cy="201.6" r="0.6" fill="#8fd07a"/>
<line x1="181.5" y1="200.3" x2="201.1" y2="200.3" stroke="#333" stroke-width="1.1"/>
<path d="M203.5 200.3 L200.5 198.8 L200.5 201.8 Z" fill="#333"/>
<line x1="216.2" y1="200.2" x2="225.5" y2="200.2" stroke="#333" stroke-width="1.1"/>
<path d="M227.9 200.2 L224.9 198.7 L224.9 201.7 Z" fill="#333"/>
<line x1="240" y1="200.1" x2="265.6" y2="200.1" stroke="#3a3a3a" stroke-width="1.2"/>
<path d="M268 200.1 L265 198.6 L265 201.6 Z" fill="#3a3a3a"/>
<path d="M221 182.8 L215.4 189.3 L217.2 189.7 L210.9 195 L213.6 190.4 L211.9 190 L218.1 183.2 Z" fill="#f28c18" stroke="#e2741a" stroke-width="0.3"/>
<line x1="210.6" y1="195" x2="212.4" y2="193.4" stroke="#b33" stroke-width="0.6"/>
<text x="206.5" y="184.16" stroke="#231f20" stroke-width="0.06" textLength="7.5" lengthAdjust="spacingAndGlyphs" font-size="5.6" text-anchor="middle">WT</text>
<text x="206.2" y="189.26" stroke="#231f20" stroke-width="0.06" textLength="18" lengthAdjust="spacingAndGlyphs" font-size="5.6" text-anchor="middle">CD45.1<tspan font-size="3.2" dy="-1.8">+</tspan></text>
<text x="226.3" y="180.36" stroke="#231f20" stroke-width="0.06" textLength="15" lengthAdjust="spacingAndGlyphs" font-size="5.6" text-anchor="middle">7+4.75</text>
<text x="227.2" y="185.66" stroke="#231f20" stroke-width="0.06" textLength="6" lengthAdjust="spacingAndGlyphs" font-size="5.6" text-anchor="middle">Gy</text>
<text x="192.3" y="209.36" stroke="#231f20" stroke-width="0.06" textLength="20" lengthAdjust="spacingAndGlyphs" font-size="5.6" text-anchor="middle">Lin<tspan font-size="3.2" dy="-1.8">-</tspan><tspan dy="1.8">/CD51</tspan><tspan font-size="3.2" dy="-1.8">-</tspan></text>
<text x="193" y="214.36" stroke="#231f20" stroke-width="0.06" textLength="30" lengthAdjust="spacingAndGlyphs" font-size="5.6" text-anchor="middle">cells transplant</text>
<rect x="166.8" y="217.3" width="19.3" height="6.8" fill="none" stroke="#222" stroke-width="0.6"/>
<text x="176.45" y="222.76" stroke="#231f20" stroke-width="0.06" textLength="13" lengthAdjust="spacingAndGlyphs" font-size="5.6" text-anchor="middle">Donor</text>
<rect x="198.5" y="217.3" width="23.8" height="6.8" fill="none" stroke="#222" stroke-width="0.6"/>
<text x="210.4" y="222.76" stroke="#231f20" stroke-width="0.06" textLength="19" lengthAdjust="spacingAndGlyphs" font-size="5.6" text-anchor="middle">Recipient</text>
<rect x="223.5" y="217.3" width="22.8" height="6.8" fill="none" stroke="#222" stroke-width="0.6"/>
<text x="234.9" y="222.76" stroke="#231f20" stroke-width="0.06" textLength="17" lengthAdjust="spacingAndGlyphs" font-size="5.6" text-anchor="middle">Chimeric</text>
<line x1="244.6" y1="196.4" x2="244.6" y2="203.7" stroke="#222" stroke-width="1"/>
<circle cx="244.6" cy="200.1" r="0.9" fill="#111"/>
<text x="244.6" y="208.56" stroke="#231f20" stroke-width="0.06" textLength="5.2" lengthAdjust="spacingAndGlyphs" font-size="5.6" text-anchor="middle">10</text>
<path d="M244.8 185.6 Q244 189 244.4 192.6" fill="none" stroke="#9a5a10" stroke-width="2.3" stroke-linecap="round"/>
<path d="M244.8 185.6 Q244 189 244.4 192.6" fill="none" stroke="#d98a26" stroke-width="1.5" stroke-linecap="round"/>
<circle cx="244.4" cy="193.4" r="1.35" fill="#e0860e" stroke="#9a5a10" stroke-width="0.3"/>
<path d="M243.5 184.8 L244.2 183.9 L244.8 184.5 L245.8 183.8 L245.7 185.4 Z" fill="#d98a26" stroke="#9a5a10" stroke-width="0.35"/>
<line x1="251.8" y1="196.4" x2="251.8" y2="203.7" stroke="#222" stroke-width="1"/>
<circle cx="251.8" cy="200.1" r="0.9" fill="#111"/>
<text x="251.8" y="208.56" stroke="#231f20" stroke-width="0.06" textLength="5.2" lengthAdjust="spacingAndGlyphs" font-size="5.6" text-anchor="middle">17</text>
<path d="M252 185.6 Q251.2 189 251.6 192.6" fill="none" stroke="#9a5a10" stroke-width="2.3" stroke-linecap="round"/>
<path d="M252 185.6 Q251.2 189 251.6 192.6" fill="none" stroke="#d98a26" stroke-width="1.5" stroke-linecap="round"/>
<circle cx="251.6" cy="193.4" r="1.35" fill="#e0860e" stroke="#9a5a10" stroke-width="0.3"/>
<path d="M250.7 184.8 L251.4 183.9 L252 184.5 L253 183.8 L252.9 185.4 Z" fill="#d98a26" stroke="#9a5a10" stroke-width="0.35"/>
<line x1="260" y1="196.4" x2="260" y2="203.7" stroke="#222" stroke-width="1"/>
<circle cx="260" cy="200.1" r="0.9" fill="#111"/>
<text x="260" y="208.56" stroke="#231f20" stroke-width="0.06" textLength="5.2" lengthAdjust="spacingAndGlyphs" font-size="5.6" text-anchor="middle">28</text>
<path d="M260.2 185.6 Q259.4 189 259.8 192.6" fill="none" stroke="#9a5a10" stroke-width="2.3" stroke-linecap="round"/>
<path d="M260.2 185.6 Q259.4 189 259.8 192.6" fill="none" stroke="#d98a26" stroke-width="1.5" stroke-linecap="round"/>
<circle cx="259.8" cy="193.4" r="1.35" fill="#e0860e" stroke="#9a5a10" stroke-width="0.3"/>
<path d="M258.9 184.8 L259.6 183.9 L260.2 184.5 L261.2 183.8 L261.1 185.4 Z" fill="#d98a26" stroke="#9a5a10" stroke-width="0.35"/>
<text x="254.6" y="214.36" stroke="#231f20" stroke-width="0.06" textLength="24" lengthAdjust="spacingAndGlyphs" font-size="5.6" text-anchor="middle">Days post-tx</text>
<text x="286.8" y="199.26" stroke="#231f20" stroke-width="0.06" textLength="29.6" lengthAdjust="spacingAndGlyphs" font-size="5.6" text-anchor="middle">Mitotransfer in</text>
<text x="286.5" y="204.66" stroke="#231f20" stroke-width="0.06" textLength="24.6" lengthAdjust="spacingAndGlyphs" font-size="5.6" text-anchor="middle">stromal cells</text>
<text x="135.1" y="239.6" font-weight="bold" fill="#000" font-size="12.5" stroke="#000" stroke-width="0.3">G</text>
<rect x="153.9" y="245.5" width="35.2" height="31.3" fill="none" stroke="#111" stroke-width="1"/>
<text x="152.1" y="248.3" stroke="#231f20" stroke-width="0.06" textLength="7.8" lengthAdjust="spacingAndGlyphs" font-size="5.15" text-anchor="end">100</text>
<line x1="152.7" y1="246.5" x2="153.9" y2="246.5" stroke="#111" stroke-width="0.5"/>
<text x="152.1" y="254.4" stroke="#231f20" stroke-width="0.06" textLength="5.2" lengthAdjust="spacingAndGlyphs" font-size="5.15" text-anchor="end">80</text>
<line x1="152.7" y1="252.6" x2="153.9" y2="252.6" stroke="#111" stroke-width="0.5"/>
<text x="152.1" y="260.4" stroke="#231f20" stroke-width="0.06" textLength="5.2" lengthAdjust="spacingAndGlyphs" font-size="5.15" text-anchor="end">60</text>
<line x1="152.7" y1="258.6" x2="153.9" y2="258.6" stroke="#111" stroke-width="0.5"/>
<text x="152.1" y="266.5" stroke="#231f20" stroke-width="0.06" textLength="5.2" lengthAdjust="spacingAndGlyphs" font-size="5.15" text-anchor="end">40</text>
<line x1="152.7" y1="264.7" x2="153.9" y2="264.7" stroke="#111" stroke-width="0.5"/>
<text x="152.1" y="272.6" stroke="#231f20" stroke-width="0.06" textLength="5.2" lengthAdjust="spacingAndGlyphs" font-size="5.15" text-anchor="end">20</text>
<line x1="152.7" y1="270.8" x2="153.9" y2="270.8" stroke="#111" stroke-width="0.5"/>
<text x="152.1" y="278.3" stroke="#231f20" stroke-width="0.06" textLength="2.6" lengthAdjust="spacingAndGlyphs" font-size="5.15" text-anchor="end">0</text>
<line x1="152.7" y1="276.5" x2="153.9" y2="276.5" stroke="#111" stroke-width="0.5"/>
<text x="157.3" y="284.7" stroke="#231f20" stroke-width="0.06" textLength="6.5" lengthAdjust="spacingAndGlyphs" font-size="5.15" text-anchor="middle">-10<tspan font-size="2.8" dy="-1.6">3</tspan></text>
<line x1="157.3" y1="276.8" x2="157.3" y2="278" stroke="#111" stroke-width="0.5"/>
<text x="162.4" y="284.7" stroke="#231f20" stroke-width="0.06" textLength="2.4" lengthAdjust="spacingAndGlyphs" font-size="5.15" text-anchor="middle">0</text>
<line x1="162.4" y1="276.8" x2="162.4" y2="278" stroke="#111" stroke-width="0.5"/>
<text x="167.8" y="284.7" stroke="#231f20" stroke-width="0.06" textLength="5.8" lengthAdjust="spacingAndGlyphs" font-size="5.15" text-anchor="middle">10<tspan font-size="2.8" dy="-1.6">3</tspan></text>
<line x1="167.8" y1="276.8" x2="167.8" y2="278" stroke="#111" stroke-width="0.5"/>
<text x="177.2" y="284.7" stroke="#231f20" stroke-width="0.06" textLength="5.8" lengthAdjust="spacingAndGlyphs" font-size="5.15" text-anchor="middle">10<tspan font-size="2.8" dy="-1.6">4</tspan></text>
<line x1="177.2" y1="276.8" x2="177.2" y2="278" stroke="#111" stroke-width="0.5"/>
<text x="185.6" y="284.7" stroke="#231f20" stroke-width="0.06" textLength="5.8" lengthAdjust="spacingAndGlyphs" font-size="5.15" text-anchor="middle">10<tspan font-size="2.8" dy="-1.6">5</tspan></text>
<line x1="185.6" y1="276.8" x2="185.6" y2="278" stroke="#111" stroke-width="0.5"/>
<text x="155.7" y="250.17" stroke="#8a5fa6" stroke-width="0.06" textLength="13.5" lengthAdjust="spacingAndGlyphs" fill="#8a5fa6" font-size="4.48">Control</text>
<line x1="164.7" y1="265.4" x2="188.5" y2="265.4" stroke="#555" stroke-width="0.5"/>
<line x1="164.7" y1="264.5" x2="164.7" y2="266.3" stroke="#555" stroke-width="0.45"/>
<line x1="188.5" y1="264.5" x2="188.5" y2="266.3" stroke="#555" stroke-width="0.45"/>
<text x="177.8" y="262.5" stroke="#231f20" stroke-width="0.06" textLength="5.6" lengthAdjust="spacingAndGlyphs" font-size="5.15" text-anchor="middle">0%</text>
<path d="M160.8 276.6 L162.4 255.6 L164 276.6" fill="#7b4d98" fill-opacity="0.35" stroke="#7b4d98" stroke-width="0.8"/>
<rect x="202.5" y="245.5" width="35.2" height="31.3" fill="none" stroke="#111" stroke-width="1"/>
<text x="200.7" y="248.3" stroke="#231f20" stroke-width="0.06" textLength="7.8" lengthAdjust="spacingAndGlyphs" font-size="5.15" text-anchor="end">100</text>
<line x1="201.3" y1="246.5" x2="202.5" y2="246.5" stroke="#111" stroke-width="0.5"/>
<text x="200.7" y="254.4" stroke="#231f20" stroke-width="0.06" textLength="5.2" lengthAdjust="spacingAndGlyphs" font-size="5.15" text-anchor="end">80</text>
<line x1="201.3" y1="252.6" x2="202.5" y2="252.6" stroke="#111" stroke-width="0.5"/>
<text x="200.7" y="260.4" stroke="#231f20" stroke-width="0.06" textLength="5.2" lengthAdjust="spacingAndGlyphs" font-size="5.15" text-anchor="end">60</text>
<line x1="201.3" y1="258.6" x2="202.5" y2="258.6" stroke="#111" stroke-width="0.5"/>
<text x="200.7" y="266.5" stroke="#231f20" stroke-width="0.06" textLength="5.2" lengthAdjust="spacingAndGlyphs" font-size="5.15" text-anchor="end">40</text>
<line x1="201.3" y1="264.7" x2="202.5" y2="264.7" stroke="#111" stroke-width="0.5"/>
<text x="200.7" y="272.6" stroke="#231f20" stroke-width="0.06" textLength="5.2" lengthAdjust="spacingAndGlyphs" font-size="5.15" text-anchor="end">20</text>
<line x1="201.3" y1="270.8" x2="202.5" y2="270.8" stroke="#111" stroke-width="0.5"/>
<text x="200.7" y="278.3" stroke="#231f20" stroke-width="0.06" textLength="2.6" lengthAdjust="spacingAndGlyphs" font-size="5.15" text-anchor="end">0</text>
<line x1="201.3" y1="276.5" x2="202.5" y2="276.5" stroke="#111" stroke-width="0.5"/>
<text x="205.9" y="284.7" stroke="#231f20" stroke-width="0.06" textLength="6.5" lengthAdjust="spacingAndGlyphs" font-size="5.15" text-anchor="middle">-10<tspan font-size="2.8" dy="-1.6">3</tspan></text>
<line x1="205.9" y1="276.8" x2="205.9" y2="278" stroke="#111" stroke-width="0.5"/>
<text x="211" y="284.7" stroke="#231f20" stroke-width="0.06" textLength="2.4" lengthAdjust="spacingAndGlyphs" font-size="5.15" text-anchor="middle">0</text>
<line x1="211" y1="276.8" x2="211" y2="278" stroke="#111" stroke-width="0.5"/>
<text x="216.4" y="284.7" stroke="#231f20" stroke-width="0.06" textLength="5.8" lengthAdjust="spacingAndGlyphs" font-size="5.15" text-anchor="middle">10<tspan font-size="2.8" dy="-1.6">3</tspan></text>
<line x1="216.4" y1="276.8" x2="216.4" y2="278" stroke="#111" stroke-width="0.5"/>
<text x="225.8" y="284.7" stroke="#231f20" stroke-width="0.06" textLength="5.8" lengthAdjust="spacingAndGlyphs" font-size="5.15" text-anchor="middle">10<tspan font-size="2.8" dy="-1.6">4</tspan></text>
<line x1="225.8" y1="276.8" x2="225.8" y2="278" stroke="#111" stroke-width="0.5"/>
<text x="234.2" y="284.7" stroke="#231f20" stroke-width="0.06" textLength="5.8" lengthAdjust="spacingAndGlyphs" font-size="5.15" text-anchor="middle">10<tspan font-size="2.8" dy="-1.6">5</tspan></text>
<line x1="234.2" y1="276.8" x2="234.2" y2="278" stroke="#111" stroke-width="0.5"/>
<text x="204.3" y="250.17" stroke="#8a5fa6" stroke-width="0.06" textLength="13.5" lengthAdjust="spacingAndGlyphs" fill="#8a5fa6" font-size="4.48">Control</text>
<line x1="213.3" y1="265.4" x2="237.1" y2="265.4" stroke="#555" stroke-width="0.5"/>
<line x1="213.3" y1="264.5" x2="213.3" y2="266.3" stroke="#555" stroke-width="0.45"/>
<line x1="237.1" y1="264.5" x2="237.1" y2="266.3" stroke="#555" stroke-width="0.45"/>
<path d="M213.5 276.6 C216.5 276 217.5 274.6 219.5 273.6 C221.5 273 222.5 274.6 224.5 275 C227.5 275.4 230.5 275.8 232.5 276.4" fill="none" stroke="#c41d4a" stroke-width="0.7"/>
<path d="M209.3 276.6 L211 255.6 L212.7 276.6" fill="none" stroke="#c41d4a" stroke-width="0.9"/>
<text x="204.3" y="254.57" stroke="#c41d4a" stroke-width="0.06" textLength="21" lengthAdjust="spacingAndGlyphs" fill="#c41d4a" font-size="4.48">WT chimera</text>
<text x="224.4" y="263.3" stroke="#231f20" stroke-width="0.06" textLength="10.5" lengthAdjust="spacingAndGlyphs" font-size="5.15" text-anchor="middle">32.9%</text>
<path d="M209.4 276.6 L211 255.6 L212.6 276.6" fill="#7b4d98" fill-opacity="0.35" stroke="#7b4d98" stroke-width="0.8"/>
<rect x="250.5" y="245.5" width="35.2" height="31.3" fill="none" stroke="#111" stroke-width="1"/>
<text x="248.7" y="248.3" stroke="#231f20" stroke-width="0.06" textLength="7.8" lengthAdjust="spacingAndGlyphs" font-size="5.15" text-anchor="end">100</text>
<line x1="249.3" y1="246.5" x2="250.5" y2="246.5" stroke="#111" stroke-width="0.5"/>
<text x="248.7" y="254.4" stroke="#231f20" stroke-width="0.06" textLength="5.2" lengthAdjust="spacingAndGlyphs" font-size="5.15" text-anchor="end">80</text>
<line x1="249.3" y1="252.6" x2="250.5" y2="252.6" stroke="#111" stroke-width="0.5"/>
<text x="248.7" y="260.4" stroke="#231f20" stroke-width="0.06" textLength="5.2" lengthAdjust="spacingAndGlyphs" font-size="5.15" text-anchor="end">60</text>
<line x1="249.3" y1="258.6" x2="250.5" y2="258.6" stroke="#111" stroke-width="0.5"/>
<text x="248.7" y="266.5" stroke="#231f20" stroke-width="0.06" textLength="5.2" lengthAdjust="spacingAndGlyphs" font-size="5.15" text-anchor="end">40</text>
<line x1="249.3" y1="264.7" x2="250.5" y2="264.7" stroke="#111" stroke-width="0.5"/>
<text x="248.7" y="272.6" stroke="#231f20" stroke-width="0.06" textLength="5.2" lengthAdjust="spacingAndGlyphs" font-size="5.15" text-anchor="end">20</text>
<line x1="249.3" y1="270.8" x2="250.5" y2="270.8" stroke="#111" stroke-width="0.5"/>
<text x="248.7" y="278.3" stroke="#231f20" stroke-width="0.06" textLength="2.6" lengthAdjust="spacingAndGlyphs" font-size="5.15" text-anchor="end">0</text>
<line x1="249.3" y1="276.5" x2="250.5" y2="276.5" stroke="#111" stroke-width="0.5"/>
<text x="253.9" y="284.7" stroke="#231f20" stroke-width="0.06" textLength="6.5" lengthAdjust="spacingAndGlyphs" font-size="5.15" text-anchor="middle">-10<tspan font-size="2.8" dy="-1.6">3</tspan></text>
<line x1="253.9" y1="276.8" x2="253.9" y2="278" stroke="#111" stroke-width="0.5"/>
<text x="259" y="284.7" stroke="#231f20" stroke-width="0.06" textLength="2.4" lengthAdjust="spacingAndGlyphs" font-size="5.15" text-anchor="middle">0</text>
<line x1="259" y1="276.8" x2="259" y2="278" stroke="#111" stroke-width="0.5"/>
<text x="264.4" y="284.7" stroke="#231f20" stroke-width="0.06" textLength="5.8" lengthAdjust="spacingAndGlyphs" font-size="5.15" text-anchor="middle">10<tspan font-size="2.8" dy="-1.6">3</tspan></text>
<line x1="264.4" y1="276.8" x2="264.4" y2="278" stroke="#111" stroke-width="0.5"/>
<text x="273.8" y="284.7" stroke="#231f20" stroke-width="0.06" textLength="5.8" lengthAdjust="spacingAndGlyphs" font-size="5.15" text-anchor="middle">10<tspan font-size="2.8" dy="-1.6">4</tspan></text>
<line x1="273.8" y1="276.8" x2="273.8" y2="278" stroke="#111" stroke-width="0.5"/>
<text x="282.2" y="284.7" stroke="#231f20" stroke-width="0.06" textLength="5.8" lengthAdjust="spacingAndGlyphs" font-size="5.15" text-anchor="middle">10<tspan font-size="2.8" dy="-1.6">5</tspan></text>
<line x1="282.2" y1="276.8" x2="282.2" y2="278" stroke="#111" stroke-width="0.5"/>
<text x="252.3" y="250.17" stroke="#8a5fa6" stroke-width="0.06" textLength="13.5" lengthAdjust="spacingAndGlyphs" fill="#8a5fa6" font-size="4.48">Control</text>
<line x1="261.3" y1="265.4" x2="285.1" y2="265.4" stroke="#555" stroke-width="0.5"/>
<line x1="261.3" y1="264.5" x2="261.3" y2="266.3" stroke="#555" stroke-width="0.45"/>
<line x1="285.1" y1="264.5" x2="285.1" y2="266.3" stroke="#555" stroke-width="0.45"/>
<path d="M261.5 276.6 C263.5 276 265.5 275.4 267.5 275.2 C270.5 275 274.5 275.8 278.5 276.2" fill="none" stroke="#3b5fa0" stroke-width="0.6"/>
<path d="M257.3 276.6 L259 255.6 L260.7 276.6" fill="none" stroke="#3b5fa0" stroke-width="0.9"/>
<text x="252.3" y="254.57" stroke="#3b5fa0" stroke-width="0.06" textLength="28" lengthAdjust="spacingAndGlyphs" fill="#3b5fa0" font-size="4.48">Cx43<tspan font-size="2.8" dy="-1.6">f/f</tspan><tspan dy="1.6"> chimera</tspan></text>
<text x="272.4" y="263.3" stroke="#231f20" stroke-width="0.06" textLength="10.5" lengthAdjust="spacingAndGlyphs" font-size="5.15" text-anchor="middle">14.3%</text>
<path d="M257.4 276.6 L259 255.6 L260.6 276.6" fill="#7b4d98" fill-opacity="0.35" stroke="#7b4d98" stroke-width="0.8"/>
<text x="0" y="2.27" stroke="#231f20" stroke-width="0.08" textLength="12.8" lengthAdjust="spacingAndGlyphs" font-size="6.5" text-anchor="middle" transform="translate(138.6 279.2) rotate(-90)">Count</text>
<line x1="143.8" y1="287.6" x2="143.8" y2="279.5" stroke="#111" stroke-width="0.7"/>
<path d="M143.8 278 L142.6 280.4 L145 280.4 Z" fill="#111"/>
<line x1="143.8" y1="287.6" x2="151.2" y2="287.6" stroke="#111" stroke-width="0.7"/>
<path d="M152.7 287.6 L150.3 286.4 L150.3 288.8 Z" fill="#111"/>
<text x="143.8" y="294.23" stroke="#231f20" stroke-width="0.08" textLength="33" lengthAdjust="spacingAndGlyphs" font-size="6.94">Dendra2-mito</text>
<text x="317.8" y="166.8" font-weight="bold" fill="#000" font-size="12.5" stroke="#000" stroke-width="0.3">H</text>
<line x1="354.5" y1="193.9" x2="354.5" y2="244.28" stroke="#000" stroke-width="1.35"/>
<line x1="353.82" y1="243.6" x2="411.2" y2="243.6" stroke="#000" stroke-width="1.35"/>
<line x1="351.5" y1="243.6" x2="354.5" y2="243.6" stroke="#000" stroke-width="1"/>
<text x="348.6" y="245.52" stroke="#231f20" stroke-width="0.06" font-size="5.49" text-anchor="end">0</text>
<line x1="351.5" y1="234.18" x2="354.5" y2="234.18" stroke="#000" stroke-width="1"/>
<text x="348.6" y="236.1" stroke="#231f20" stroke-width="0.06" font-size="5.49" text-anchor="end">10</text>
<line x1="351.5" y1="224.76" x2="354.5" y2="224.76" stroke="#000" stroke-width="1"/>
<text x="348.6" y="226.68" stroke="#231f20" stroke-width="0.06" font-size="5.49" text-anchor="end">20</text>
<line x1="351.5" y1="215.34" x2="354.5" y2="215.34" stroke="#000" stroke-width="1"/>
<text x="348.6" y="217.26" stroke="#231f20" stroke-width="0.06" font-size="5.49" text-anchor="end">30</text>
<line x1="351.5" y1="205.92" x2="354.5" y2="205.92" stroke="#000" stroke-width="1"/>
<text x="348.6" y="207.84" stroke="#231f20" stroke-width="0.06" font-size="5.49" text-anchor="end">40</text>
<line x1="351.5" y1="196.5" x2="354.5" y2="196.5" stroke="#000" stroke-width="1"/>
<text x="348.6" y="198.42" stroke="#231f20" stroke-width="0.06" font-size="5.49" text-anchor="end">50</text>
<line x1="357" y1="243.6" x2="357" y2="246.6" stroke="#000" stroke-width="1"/>
<line x1="376.1" y1="243.6" x2="376.1" y2="246.6" stroke="#000" stroke-width="1"/>
<line x1="405.8" y1="243.6" x2="405.8" y2="246.6" stroke="#000" stroke-width="1"/>
<polyline points="357,209.88 376.1,226.17 405.8,212.51" fill="none" stroke="#c0223e" stroke-width="0.9" stroke-dasharray="0.9 1.2"/>
<polyline points="357,225.7 376.1,232.3 405.8,228.06" fill="none" stroke="#2c4b80" stroke-width="1.1" stroke-dasharray="3 1.6"/>
<line x1="357" y1="212.33" x2="357" y2="207.43" stroke="#c0223e" stroke-width="0.7"/>
<line x1="356" y1="207.43" x2="358" y2="207.43" stroke="#c0223e" stroke-width="0.7"/>
<line x1="356" y1="212.33" x2="358" y2="212.33" stroke="#c0223e" stroke-width="0.7"/>
<circle cx="357" cy="209.88" r="1.1" fill="#c0223e"/>
<line x1="376.1" y1="227.49" x2="376.1" y2="224.85" stroke="#c0223e" stroke-width="0.7"/>
<line x1="375.1" y1="224.85" x2="377.1" y2="224.85" stroke="#c0223e" stroke-width="0.7"/>
<line x1="375.1" y1="227.49" x2="377.1" y2="227.49" stroke="#c0223e" stroke-width="0.7"/>
<circle cx="376.1" cy="226.17" r="1.1" fill="#c0223e"/>
<line x1="405.8" y1="216.85" x2="405.8" y2="208.18" stroke="#c0223e" stroke-width="0.7"/>
<line x1="404.8" y1="208.18" x2="406.8" y2="208.18" stroke="#c0223e" stroke-width="0.7"/>
<line x1="404.8" y1="216.85" x2="406.8" y2="216.85" stroke="#c0223e" stroke-width="0.7"/>
<circle cx="405.8" cy="212.51" r="1.1" fill="#c0223e"/>
<line x1="357" y1="229.47" x2="357" y2="221.93" stroke="#2c4b80" stroke-width="0.7"/>
<line x1="356" y1="221.93" x2="358" y2="221.93" stroke="#2c4b80" stroke-width="0.7"/>
<line x1="356" y1="229.47" x2="358" y2="229.47" stroke="#2c4b80" stroke-width="0.7"/>
<circle cx="357" cy="225.7" r="1.1" fill="#2c4b80"/>
<line x1="376.1" y1="233.24" x2="376.1" y2="231.35" stroke="#2c4b80" stroke-width="0.7"/>
<line x1="375.1" y1="231.35" x2="377.1" y2="231.35" stroke="#2c4b80" stroke-width="0.7"/>
<line x1="375.1" y1="233.24" x2="377.1" y2="233.24" stroke="#2c4b80" stroke-width="0.7"/>
<circle cx="376.1" cy="232.3" r="1.1" fill="#2c4b80"/>
<line x1="405.8" y1="232.77" x2="405.8" y2="223.35" stroke="#2c4b80" stroke-width="0.7"/>
<line x1="404.8" y1="223.35" x2="406.8" y2="223.35" stroke="#2c4b80" stroke-width="0.7"/>
<line x1="404.8" y1="232.77" x2="406.8" y2="232.77" stroke="#2c4b80" stroke-width="0.7"/>
<circle cx="405.8" cy="228.06" r="1.1" fill="#2c4b80"/>
<text x="357" y="235.56" stroke="#231f20" stroke-width="0.06" font-size="5.6" text-anchor="middle">**</text>
<text x="376.1" y="240.16" stroke="#231f20" stroke-width="0.06" font-size="5.6" text-anchor="middle">*</text>
<text x="405.8" y="238.16" stroke="#231f20" stroke-width="0.06" font-size="5.6" text-anchor="middle">*</text>
<text x="357" y="254.66" stroke="#231f20" stroke-width="0.06" font-size="5.6" text-anchor="middle">10</text>
<text x="376.1" y="254.66" stroke="#231f20" stroke-width="0.06" font-size="5.6" text-anchor="middle">17</text>
<text x="405.8" y="254.66" stroke="#231f20" stroke-width="0.06" font-size="5.6" text-anchor="middle">28</text>
<text x="382.6" y="266.23" stroke="#231f20" stroke-width="0.08" textLength="55.6" lengthAdjust="spacingAndGlyphs" font-size="6.94" text-anchor="middle">Days post transplant</text>
<line x1="353" y1="180.5" x2="360.4" y2="180.5" stroke="#c0223e" stroke-width="0.9" stroke-dasharray="0.9 1.2"/>
<circle cx="357" cy="180.5" r="1.1" fill="#c0223e"/>
<text x="364.3" y="182.7" stroke="#231f20" stroke-width="0.08" textLength="32.3" lengthAdjust="spacingAndGlyphs" font-size="6.27">WT chimeras</text>
<line x1="353" y1="186.6" x2="360.4" y2="186.6" stroke="#2c4b80" stroke-width="1.1" stroke-dasharray="2.2 1.4"/>
<rect x="356" y="185.6" width="2" height="2" fill="#2c4b80"/>
<text x="364.3" y="188.8" stroke="#231f20" stroke-width="0.08" textLength="47.7" lengthAdjust="spacingAndGlyphs" font-size="6.27">H-Cx43<tspan font-size="3.4" dy="-1.9">f/f</tspan><tspan dy="1.9"> chimeras</tspan></text>
<text x="0" y="2.67" stroke="#231f20" stroke-width="0.14" textLength="78" lengthAdjust="spacingAndGlyphs" font-size="7.62" text-anchor="middle" transform="translate(326.6 219.6) rotate(-90)">Percent Dendra2-mito<tspan font-size="3.8" dy="-2.2">+</tspan><tspan dy="2.2"> cells</tspan></text>
<text x="0" y="2.67" stroke="#231f20" stroke-width="0.14" textLength="79.6" lengthAdjust="spacingAndGlyphs" font-size="7.62" text-anchor="middle" transform="translate(333.4 219.6) rotate(-90)">(Lin<tspan font-size="3.8" dy="-2.2">-</tspan><tspan dy="2.2">/CD45</tspan><tspan font-size="3.8" dy="-2.2">-</tspan><tspan dy="2.2">/PDGFR&#945;</tspan><tspan font-size="3.8" dy="-2.2">+</tspan><tspan dy="2.2">/Sca1</tspan><tspan font-size="3.8" dy="-2.2">+</tspan><tspan dy="2.2">)</tspan></text>
<text x="428.7" y="166.8" font-weight="bold" fill="#000" font-size="12.5" stroke="#000" stroke-width="0.3">I</text>
<line x1="476.7" y1="188.1" x2="476.7" y2="244.08" stroke="#000" stroke-width="1.35"/>
<line x1="476.02" y1="243.4" x2="512.4" y2="243.4" stroke="#000" stroke-width="1.35"/>
<line x1="473.7" y1="243.4" x2="476.7" y2="243.4" stroke="#000" stroke-width="1"/>
<text x="470.8" y="245.32" stroke="#231f20" stroke-width="0.06" font-size="5.49" text-anchor="end">0.0</text>
<line x1="473.7" y1="234.7" x2="476.7" y2="234.7" stroke="#000" stroke-width="1"/>
<text x="470.8" y="236.62" stroke="#231f20" stroke-width="0.06" font-size="5.49" text-anchor="end">0.2</text>
<line x1="473.7" y1="226" x2="476.7" y2="226" stroke="#000" stroke-width="1"/>
<text x="470.8" y="227.92" stroke="#231f20" stroke-width="0.06" font-size="5.49" text-anchor="end">0.4</text>
<line x1="473.7" y1="217.3" x2="476.7" y2="217.3" stroke="#000" stroke-width="1"/>
<text x="470.8" y="219.22" stroke="#231f20" stroke-width="0.06" font-size="5.49" text-anchor="end">0.6</text>
<line x1="473.7" y1="208.6" x2="476.7" y2="208.6" stroke="#000" stroke-width="1"/>
<text x="470.8" y="210.52" stroke="#231f20" stroke-width="0.06" font-size="5.49" text-anchor="end">0.8</text>
<line x1="473.7" y1="199.9" x2="476.7" y2="199.9" stroke="#000" stroke-width="1"/>
<text x="470.8" y="201.82" stroke="#231f20" stroke-width="0.06" font-size="5.49" text-anchor="end">1.0</text>
<line x1="473.7" y1="191.2" x2="476.7" y2="191.2" stroke="#000" stroke-width="1"/>
<text x="470.8" y="193.12" stroke="#231f20" stroke-width="0.06" font-size="5.49" text-anchor="end">1.2</text>
<line x1="485.2" y1="243.4" x2="485.2" y2="246.4" stroke="#000" stroke-width="1"/>
<line x1="503.5" y1="243.4" x2="503.5" y2="246.4" stroke="#000" stroke-width="1"/>
<rect x="480.7" y="200.3" width="9.1" height="43.1" fill="#a6002b"/>
<line x1="485.25" y1="200.3" x2="485.25" y2="197.4" stroke="#a6002b" stroke-width="0.8"/>
<line x1="483.5" y1="197.4" x2="487" y2="197.4" stroke="#a6002b" stroke-width="0.8"/>
<rect x="499" y="215.4" width="9" height="28" fill="#2c4b80"/>
<line x1="503.5" y1="215.4" x2="503.5" y2="211.4" stroke="#2c4b80" stroke-width="0.8"/>
<line x1="501.75" y1="211.4" x2="505.25" y2="211.4" stroke="#2c4b80" stroke-width="0.8"/>
<text x="0" y="2.59" stroke="#231f20" stroke-width="0.14" textLength="89" lengthAdjust="spacingAndGlyphs" font-size="7.39" text-anchor="middle" transform="translate(434.8 215.2) rotate(-90)">MitoSox (MFI) in Dendra2-mito<tspan font-size="3.8" dy="-2.2">+</tspan><tspan dy="2.2"></tspan></text>
<text x="0" y="2.59" stroke="#231f20" stroke-width="0.14" textLength="88" lengthAdjust="spacingAndGlyphs" font-size="7.39" text-anchor="middle" transform="translate(444.1 216.3) rotate(-90)">Lin<tspan font-size="3.8" dy="-2.2">-</tspan><tspan dy="2.2">/CD45</tspan><tspan font-size="3.8" dy="-2.2">-</tspan><tspan dy="2.2">/PDGFR&#945;</tspan><tspan font-size="3.8" dy="-2.2">+</tspan><tspan dy="2.2">/Sca1</tspan><tspan font-size="3.8" dy="-2.2">+</tspan><tspan dy="2.2"> cells</tspan></text>
<text x="0" y="2.59" stroke="#231f20" stroke-width="0.14" textLength="35.5" lengthAdjust="spacingAndGlyphs" font-size="7.39" text-anchor="middle" transform="translate(453.8 216.2) rotate(-90)">(normalized)</text>
<text x="0" y="2.2" stroke="#231f20" stroke-width="0.08" textLength="9.5" lengthAdjust="spacingAndGlyphs" font-size="6.27" text-anchor="end" transform="translate(487 252.5) rotate(-45)">WT</text>
<text x="0" y="2.2" stroke="#231f20" stroke-width="0.08" textLength="25.5" lengthAdjust="spacingAndGlyphs" font-size="6.27" text-anchor="end" transform="translate(504.5 252.5) rotate(-45)">H-Cx43<tspan font-size="3.4" dy="-1.9">f/f</tspan></text>
<text x="503.4" y="211.46" stroke="#231f20" stroke-width="0.06" font-size="5.6" text-anchor="middle">**</text>
<text x="7.5" y="322.6" font-weight="bold" fill="#000" font-size="12.5" stroke="#000" stroke-width="0.3">J</text>
<line x1="55.5" y1="349.8" x2="55.5" y2="405.57" stroke="#000" stroke-width="1.35"/>
<line x1="54.83" y1="404.9" x2="92" y2="404.9" stroke="#000" stroke-width="1.35"/>
<line x1="52.5" y1="404.9" x2="55.5" y2="404.9" stroke="#000" stroke-width="1"/>
<text x="49.6" y="406.82" stroke="#231f20" stroke-width="0.06" font-size="5.49" text-anchor="end">0.0</text>
<line x1="52.5" y1="396.2" x2="55.5" y2="396.2" stroke="#000" stroke-width="1"/>
<text x="49.6" y="398.12" stroke="#231f20" stroke-width="0.06" font-size="5.49" text-anchor="end">0.2</text>
<line x1="52.5" y1="387.5" x2="55.5" y2="387.5" stroke="#000" stroke-width="1"/>
<text x="49.6" y="389.42" stroke="#231f20" stroke-width="0.06" font-size="5.49" text-anchor="end">0.4</text>
<line x1="52.5" y1="378.8" x2="55.5" y2="378.8" stroke="#000" stroke-width="1"/>
<text x="49.6" y="380.72" stroke="#231f20" stroke-width="0.06" font-size="5.49" text-anchor="end">0.6</text>
<line x1="52.5" y1="370.1" x2="55.5" y2="370.1" stroke="#000" stroke-width="1"/>
<text x="49.6" y="372.02" stroke="#231f20" stroke-width="0.06" font-size="5.49" text-anchor="end">0.8</text>
<line x1="52.5" y1="361.4" x2="55.5" y2="361.4" stroke="#000" stroke-width="1"/>
<text x="49.6" y="363.32" stroke="#231f20" stroke-width="0.06" font-size="5.49" text-anchor="end">1.0</text>
<line x1="52.5" y1="352.7" x2="55.5" y2="352.7" stroke="#000" stroke-width="1"/>
<text x="49.6" y="354.62" stroke="#231f20" stroke-width="0.06" font-size="5.49" text-anchor="end">1.2</text>
<line x1="64.5" y1="404.9" x2="64.5" y2="407.9" stroke="#000" stroke-width="1"/>
<line x1="82.5" y1="404.9" x2="82.5" y2="407.9" stroke="#000" stroke-width="1"/>
<rect x="60" y="361.4" width="9" height="43.5" fill="#a6002b"/>
<line x1="64.5" y1="361.4" x2="64.5" y2="359.2" stroke="#a6002b" stroke-width="0.8"/>
<line x1="62.75" y1="359.2" x2="66.25" y2="359.2" stroke="#a6002b" stroke-width="0.8"/>
<rect x="78" y="374.2" width="8.9" height="30.7" fill="#2c4b80"/>
<line x1="82.45" y1="374.2" x2="82.45" y2="369.9" stroke="#2c4b80" stroke-width="0.8"/>
<line x1="80.7" y1="369.9" x2="84.2" y2="369.9" stroke="#2c4b80" stroke-width="0.8"/>
<text x="0" y="2.59" stroke="#231f20" stroke-width="0.14" textLength="82.5" lengthAdjust="spacingAndGlyphs" font-size="7.39" text-anchor="middle" transform="translate(14.6 377.4) rotate(-90)">TMRE (MFI) in Dendra2-mito<tspan font-size="3.8" dy="-2.2">+</tspan><tspan dy="2.2"></tspan></text>
<text x="0" y="2.59" stroke="#231f20" stroke-width="0.14" textLength="87" lengthAdjust="spacingAndGlyphs" font-size="7.39" text-anchor="middle" transform="translate(23.4 376.7) rotate(-90)">Lin<tspan font-size="3.8" dy="-2.2">-</tspan><tspan dy="2.2">/CD45</tspan><tspan font-size="3.8" dy="-2.2">-</tspan><tspan dy="2.2">/PDGFR&#945;</tspan><tspan font-size="3.8" dy="-2.2">+</tspan><tspan dy="2.2">/Sca1</tspan><tspan font-size="3.8" dy="-2.2">+</tspan><tspan dy="2.2"> cells</tspan></text>
<text x="0" y="2.59" stroke="#231f20" stroke-width="0.14" textLength="34" lengthAdjust="spacingAndGlyphs" font-size="7.39" text-anchor="middle" transform="translate(32.9 376.3) rotate(-90)">(normalized)</text>
<text x="0" y="2.2" stroke="#231f20" stroke-width="0.08" textLength="9.5" lengthAdjust="spacingAndGlyphs" font-size="6.27" text-anchor="end" transform="translate(66.5 412.5) rotate(-45)">WT</text>
<text x="0" y="2.2" stroke="#231f20" stroke-width="0.08" textLength="25.5" lengthAdjust="spacingAndGlyphs" font-size="6.27" text-anchor="end" transform="translate(84 412.5) rotate(-45)">H-Cx43<tspan font-size="3.4" dy="-1.9">f/f</tspan></text>
<text x="82.2" y="369.96" stroke="#231f20" stroke-width="0.06" font-size="5.6" text-anchor="middle">**</text>
<text x="108.75" y="322.6" font-weight="bold" fill="#000" font-size="12.5" stroke="#000" stroke-width="0.3">K</text>
<text x="127.8" y="363.54" stroke="#231f20" stroke-width="0.06" textLength="22" lengthAdjust="spacingAndGlyphs" font-size="5.82" text-anchor="middle">Donor cells</text>
<ellipse cx="124.7" cy="369.2" rx="2.2" ry="1.85" fill="#3e9a2c" stroke="#2b7a1e" stroke-width="0.3"/>
<ellipse cx="124.7" cy="369.2" rx="1.2" ry="0.9" fill="#1d4a48"/>
<ellipse cx="129.1" cy="366.9" rx="2.2" ry="1.85" fill="#3e9a2c" stroke="#2b7a1e" stroke-width="0.3"/>
<ellipse cx="129.1" cy="366.9" rx="1.2" ry="0.9" fill="#1d4a48"/>
<ellipse cx="129.3" cy="370.6" rx="2.2" ry="1.85" fill="#3e9a2c" stroke="#2b7a1e" stroke-width="0.3"/>
<ellipse cx="129.3" cy="370.6" rx="1.2" ry="0.9" fill="#1d4a48"/>
<ellipse cx="124.9" cy="373.2" rx="2.2" ry="1.85" fill="#3e9a2c" stroke="#2b7a1e" stroke-width="0.3"/>
<ellipse cx="124.9" cy="373.2" rx="1.2" ry="0.9" fill="#1d4a48"/>
<ellipse cx="133.5" cy="372.2" rx="2.2" ry="1.85" fill="#3e9a2c" stroke="#2b7a1e" stroke-width="0.3"/>
<ellipse cx="133.5" cy="372.2" rx="1.2" ry="0.9" fill="#1d4a48"/>
<ellipse cx="129.3" cy="374.8" rx="2.2" ry="1.85" fill="#3e9a2c" stroke="#2b7a1e" stroke-width="0.3"/>
<ellipse cx="129.3" cy="374.8" rx="1.2" ry="0.9" fill="#1d4a48"/>
<text x="126.5" y="383.54" stroke="#4d7f70" stroke-width="0.06" textLength="21" lengthAdjust="spacingAndGlyphs" fill="#4d7f70" font-size="5.82" text-anchor="middle">WT/Cx43<tspan font-size="3.2" dy="-1.8">f/f</tspan></text>
<text x="126.5" y="388.94" stroke="#4d7f70" stroke-width="0.06" textLength="26" lengthAdjust="spacingAndGlyphs" fill="#4d7f70" font-size="5.82" text-anchor="middle">Dendra2-mito</text>
<text x="126.5" y="394.34" stroke="#4d7f70" stroke-width="0.06" textLength="15" lengthAdjust="spacingAndGlyphs" fill="#4d7f70" font-size="5.82" text-anchor="middle">Lin<tspan font-size="3.2" dy="-1.8">-</tspan><tspan dy="1.8"> cells</tspan></text>
<line x1="138" y1="368.8" x2="161.1" y2="368.8" stroke="#333" stroke-width="1.1"/>
<path d="M163.5 368.8 L160.5 367.3 L160.5 370.3 Z" fill="#333"/>
<text x="150.8" y="377.44" stroke="#231f20" stroke-width="0.06" textLength="26" lengthAdjust="spacingAndGlyphs" font-size="5.82" text-anchor="middle">Mitochondria</text>
<text x="150.8" y="382.54" stroke="#231f20" stroke-width="0.06" textLength="17" lengthAdjust="spacingAndGlyphs" font-size="5.82" text-anchor="middle">Isolation</text>
<path d="M165.4 363.6 L165.6 372 Q167.4 376.6 169.2 372 L169.4 363.6" fill="#f4f4f4" stroke="#9a9a9a" stroke-width="0.5"/>
<path d="M165.7 370.2 L165.8 372 Q167.4 375.8 169 372 L169.1 370.2 Z" fill="#6cc04a"/>
<line x1="164.9" y1="363.4" x2="170" y2="363.4" stroke="#444" stroke-width="0.8"/>
<path d="M170.4 363.5 C172.5 363 173.5 361.5 175.5 361.2 L178.8 360.2 L178 362 L175.8 362.6 C174 363.2 172.5 364 170.4 363.5 Z" fill="none" stroke="#333" stroke-width="0.45"/>
<text x="171.9" y="370.21" stroke="#231f20" stroke-width="0.06" font-size="4.03" text-anchor="middle">=</text>
<text x="185.8" y="356.54" stroke="#231f20" stroke-width="0.06" textLength="18.5" lengthAdjust="spacingAndGlyphs" font-size="5.82" text-anchor="middle">Recipient</text>
<text x="187.8" y="362.14" stroke="#231f20" stroke-width="0.06" textLength="10" lengthAdjust="spacingAndGlyphs" font-size="5.82" text-anchor="middle">cells</text>
<path d="M177.6 366.8 Q181.6 364.1 186.4 365.2 Q182.4 368.1 177.6 366.8 Z" fill="#f5c272" stroke="#eeaa4a" stroke-width="0.3"/>
<path d="M186 365.2 L187.8 363.9 M178 366.8 L176.4 366.5" stroke="#f0b458" stroke-width="0.5" fill="none"/>
<path d="M175 369.8 Q179 367.1 183.8 368.2 Q179.8 371.1 175 369.8 Z" fill="#f5c272" stroke="#eeaa4a" stroke-width="0.3"/>
<path d="M183.4 368.2 L185.2 366.9 M175.4 369.8 L173.8 369.5" stroke="#f0b458" stroke-width="0.5" fill="none"/>
<path d="M183.3 370.9 Q187.3 368.2 192.1 369.3 Q188.1 372.2 183.3 370.9 Z" fill="#f5c272" stroke="#eeaa4a" stroke-width="0.3"/>
<path d="M191.7 369.3 L193.5 368 M183.7 370.9 L182.1 370.6" stroke="#f0b458" stroke-width="0.5" fill="none"/>
<path d="M180.7 373.8 Q184.7 371.1 189.5 372.2 Q185.5 375.1 180.7 373.8 Z" fill="#f5c272" stroke="#eeaa4a" stroke-width="0.3"/>
<path d="M189.1 372.2 L190.9 370.9 M181.1 373.8 L179.5 373.5" stroke="#f0b458" stroke-width="0.5" fill="none"/>
<ellipse cx="182" cy="366.1" rx="1.45" ry="0.8" fill="#4a2a0a" transform="rotate(-8 182 366.1)"/>
<ellipse cx="179.4" cy="369.1" rx="1.45" ry="0.8" fill="#4a2a0a" transform="rotate(-8 179.4 369.1)"/>
<ellipse cx="187.7" cy="370.2" rx="1.45" ry="0.8" fill="#4a2a0a" transform="rotate(-8 187.7 370.2)"/>
<ellipse cx="185.1" cy="373.1" rx="1.45" ry="0.8" fill="#4a2a0a" transform="rotate(-8 185.1 373.1)"/>
<text x="185.8" y="380.84" stroke="#c98a3e" stroke-width="0.06" textLength="18.5" lengthAdjust="spacingAndGlyphs" fill="#c98a3e" font-size="5.82" text-anchor="middle">Irradiated</text>
<text x="185.8" y="386.24" stroke="#c98a3e" stroke-width="0.06" textLength="25" lengthAdjust="spacingAndGlyphs" fill="#c98a3e" font-size="5.82" text-anchor="middle">stromal cells</text>
<line x1="195" y1="368.8" x2="217.4" y2="368.8" stroke="#333" stroke-width="1"/>
<path d="M219.8 368.8 L216.8 367.3 L216.8 370.3 Z" fill="#333"/>
<line x1="201.9" y1="366.4" x2="201.9" y2="371.3" stroke="#333" stroke-width="0.9"/>
<line x1="210.4" y1="366.4" x2="210.4" y2="371.3" stroke="#333" stroke-width="0.9"/>
<text x="0" y="1.8" stroke="#231f20" stroke-width="0.06" textLength="7" lengthAdjust="spacingAndGlyphs" font-size="5.15" text-anchor="middle" transform="translate(201.9 376.6) rotate(-90)">24h</text>
<text x="0" y="1.8" stroke="#231f20" stroke-width="0.06" textLength="7" lengthAdjust="spacingAndGlyphs" font-size="5.15" text-anchor="middle" transform="translate(210.4 376.6) rotate(-90)">48h</text>
<text x="206.8" y="358.14" stroke="#231f20" stroke-width="0.06" textLength="13.5" lengthAdjust="spacingAndGlyphs" font-size="5.82" text-anchor="middle">In vitro</text>
<text x="206.8" y="363.24" stroke="#231f20" stroke-width="0.06" textLength="20.5" lengthAdjust="spacingAndGlyphs" font-size="5.82" text-anchor="middle">Co-culture</text>
<path d="M224.9 366.9 Q228.9 364.2 233.7 365.3 Q229.7 368.2 224.9 366.9 Z" fill="#f5c272" stroke="#eeaa4a" stroke-width="0.3"/>
<path d="M233.3 365.3 L235.1 364 M225.3 366.9 L223.7 366.6" stroke="#f0b458" stroke-width="0.5" fill="none"/>
<path d="M222.2 369.8 Q226.2 367.1 231 368.2 Q227 371.1 222.2 369.8 Z" fill="#f5c272" stroke="#eeaa4a" stroke-width="0.3"/>
<path d="M230.6 368.2 L232.4 366.9 M222.6 369.8 L221 369.5" stroke="#f0b458" stroke-width="0.5" fill="none"/>
<path d="M230.6 370.5 Q234.6 367.8 239.4 368.9 Q235.4 371.8 230.6 370.5 Z" fill="#f5c272" stroke="#eeaa4a" stroke-width="0.3"/>
<path d="M239 368.9 L240.8 367.6 M231 370.5 L229.4 370.2" stroke="#f0b458" stroke-width="0.5" fill="none"/>
<path d="M228.3 373.8 Q232.3 371.1 237.1 372.2 Q233.1 375.1 228.3 373.8 Z" fill="#f5c272" stroke="#eeaa4a" stroke-width="0.3"/>
<path d="M236.7 372.2 L238.5 370.9 M228.7 373.8 L227.1 373.5" stroke="#f0b458" stroke-width="0.5" fill="none"/>
<ellipse cx="229.3" cy="366.2" rx="1.45" ry="0.8" fill="#4a2a0a" transform="rotate(-8 229.3 366.2)"/>
<circle cx="226.5" cy="366.9" r="0.6" fill="#4cae3a"/>
<circle cx="232.1" cy="365.6" r="0.6" fill="#4cae3a"/>
<ellipse cx="226.6" cy="369.1" rx="1.45" ry="0.8" fill="#4a2a0a" transform="rotate(-8 226.6 369.1)"/>
<circle cx="223.8" cy="369.8" r="0.6" fill="#4cae3a"/>
<circle cx="229.4" cy="368.5" r="0.6" fill="#4cae3a"/>
<ellipse cx="235" cy="369.8" rx="1.45" ry="0.8" fill="#4a2a0a" transform="rotate(-8 235 369.8)"/>
<circle cx="232.2" cy="370.5" r="0.6" fill="#4cae3a"/>
<circle cx="237.8" cy="369.2" r="0.6" fill="#4cae3a"/>
<ellipse cx="232.7" cy="373.1" rx="1.45" ry="0.8" fill="#4a2a0a" transform="rotate(-8 232.7 373.1)"/>
<circle cx="229.9" cy="373.8" r="0.6" fill="#4cae3a"/>
<circle cx="235.5" cy="372.5" r="0.6" fill="#4cae3a"/>
<text x="234.3" y="379.74" stroke="#231f20" stroke-width="0.06" textLength="19" lengthAdjust="spacingAndGlyphs" font-size="5.82" text-anchor="middle">Dendra2-</text>
<text x="234.3" y="385.34" stroke="#231f20" stroke-width="0.06" textLength="26" lengthAdjust="spacingAndGlyphs" font-size="5.82" text-anchor="middle">mitochondria</text>
<text x="234.1" y="390.94" stroke="#231f20" stroke-width="0.06" textLength="21.6" lengthAdjust="spacingAndGlyphs" font-size="5.82" text-anchor="middle">containing</text>
<text x="234.3" y="396.34" stroke="#231f20" stroke-width="0.06" textLength="24.7" lengthAdjust="spacingAndGlyphs" font-size="5.82" text-anchor="middle">stromal cells</text>
<text x="263.9" y="322.4" font-weight="bold" fill="#000" font-size="12.5" stroke="#000" stroke-width="0.3">L</text>
<rect x="293.2" y="325.6" width="3.5" height="3.5" fill="#a6002b"/>
<rect x="293.2" y="332.3" width="3.5" height="3.5" fill="#2c4b80"/>
<text x="299.1" y="329.47" stroke="#231f20" stroke-width="0.06" textLength="51" lengthAdjust="spacingAndGlyphs" font-size="6.05">WT mito:WT stroma</text>
<text x="299.1" y="336.17" stroke="#231f20" stroke-width="0.06" textLength="60.6" lengthAdjust="spacingAndGlyphs" font-size="6.05">Cx43<tspan font-size="3.3" dy="-1.8">f/f</tspan><tspan dy="1.8"> </tspan>mito:WT stroma</text>
<line x1="300.3" y1="347.3" x2="300.3" y2="405.78" stroke="#000" stroke-width="1.35"/>
<line x1="299.62" y1="405.1" x2="352.7" y2="405.1" stroke="#000" stroke-width="1.35"/>
<line x1="297.3" y1="405.1" x2="300.3" y2="405.1" stroke="#000" stroke-width="1"/>
<text x="294.4" y="407.02" stroke="#231f20" stroke-width="0.06" font-size="5.49" text-anchor="end">0</text>
<line x1="297.3" y1="386.9" x2="300.3" y2="386.9" stroke="#000" stroke-width="1"/>
<text x="294.4" y="388.82" stroke="#231f20" stroke-width="0.06" font-size="5.49" text-anchor="end">10</text>
<line x1="297.3" y1="368.7" x2="300.3" y2="368.7" stroke="#000" stroke-width="1"/>
<text x="294.4" y="370.62" stroke="#231f20" stroke-width="0.06" font-size="5.49" text-anchor="end">20</text>
<line x1="297.3" y1="350.5" x2="300.3" y2="350.5" stroke="#000" stroke-width="1"/>
<text x="294.4" y="352.42" stroke="#231f20" stroke-width="0.06" font-size="5.49" text-anchor="end">30</text>
<line x1="308.3" y1="405.1" x2="308.3" y2="408.1" stroke="#000" stroke-width="1"/>
<line x1="320.2" y1="405.1" x2="320.2" y2="408.1" stroke="#000" stroke-width="1"/>
<line x1="332.3" y1="405.1" x2="332.3" y2="408.1" stroke="#000" stroke-width="1"/>
<line x1="344.3" y1="405.1" x2="344.3" y2="408.1" stroke="#000" stroke-width="1"/>
<rect x="304.7" y="371.43" width="8" height="33.67" fill="#a6002b"/>
<line x1="308.7" y1="371.43" x2="308.7" y2="366.33" stroke="#a6002b" stroke-width="0.8"/>
<line x1="306.95" y1="366.33" x2="310.45" y2="366.33" stroke="#a6002b" stroke-width="0.8"/>
<rect x="316.7" y="366.88" width="7.9" height="38.22" fill="#2c4b80"/>
<line x1="320.65" y1="366.88" x2="320.65" y2="358.87" stroke="#2c4b80" stroke-width="0.8"/>
<line x1="318.9" y1="358.87" x2="322.4" y2="358.87" stroke="#2c4b80" stroke-width="0.8"/>
<rect x="328.7" y="376.89" width="8" height="28.21" fill="#a6002b"/>
<line x1="332.7" y1="376.89" x2="332.7" y2="374.16" stroke="#a6002b" stroke-width="0.8"/>
<line x1="330.95" y1="374.16" x2="334.45" y2="374.16" stroke="#a6002b" stroke-width="0.8"/>
<rect x="340.8" y="366.88" width="7.8" height="38.22" fill="#2c4b80"/>
<line x1="344.7" y1="366.88" x2="344.7" y2="358.33" stroke="#2c4b80" stroke-width="0.8"/>
<line x1="342.95" y1="358.33" x2="346.45" y2="358.33" stroke="#2c4b80" stroke-width="0.8"/>
<line x1="304.7" y1="411.4" x2="324" y2="411.4" stroke="#222" stroke-width="1"/>
<line x1="329" y1="411.4" x2="348" y2="411.4" stroke="#222" stroke-width="1"/>
<text x="313.6" y="419.88" stroke="#231f20" stroke-width="0.06" textLength="9.5" lengthAdjust="spacingAndGlyphs" font-size="5.94" text-anchor="middle">24h</text>
<text x="338.2" y="419.88" stroke="#231f20" stroke-width="0.06" textLength="9.5" lengthAdjust="spacingAndGlyphs" font-size="5.94" text-anchor="middle">48h</text>
<text x="0" y="2.67" stroke="#231f20" stroke-width="0.14" textLength="63" lengthAdjust="spacingAndGlyphs" font-size="7.62" text-anchor="middle" transform="translate(270.8 376.3) rotate(-90)">Percent Dendra2-mito<tspan font-size="3.8" dy="-2.2">+</tspan><tspan dy="2.2"></tspan></text>
<text x="0" y="2.67" stroke="#231f20" stroke-width="0.14" textLength="41.7" lengthAdjust="spacingAndGlyphs" font-size="7.62" text-anchor="middle" transform="translate(280 376.6) rotate(-90)">PDGFR&#945;<tspan font-size="3.8" dy="-2.2">+</tspan><tspan dy="2.2"> cells</tspan></text>
<text x="376.4" y="322.4" font-weight="bold" fill="#000" font-size="12.5" stroke="#000" stroke-width="0.3">M</text>
<rect x="404.8" y="325.6" width="3.5" height="3.5" fill="#a6002b"/>
<rect x="404.8" y="332.3" width="3.5" height="3.5" fill="#2c4b80"/>
<text x="410.7" y="329.47" stroke="#231f20" stroke-width="0.06" textLength="51" lengthAdjust="spacingAndGlyphs" font-size="6.05">WT mito:WT stroma</text>
<text x="410.7" y="336.17" stroke="#231f20" stroke-width="0.06" textLength="60.6" lengthAdjust="spacingAndGlyphs" font-size="6.05">Cx43<tspan font-size="3.3" dy="-1.8">f/f</tspan><tspan dy="1.8"> </tspan>mito:WT stroma</text>
<line x1="411.1" y1="347.3" x2="411.1" y2="405.68" stroke="#000" stroke-width="1.35"/>
<line x1="410.43" y1="405" x2="463.9" y2="405" stroke="#000" stroke-width="1.35"/>
<line x1="408.1" y1="405" x2="411.1" y2="405" stroke="#000" stroke-width="1"/>
<text x="405.2" y="406.92" stroke="#231f20" stroke-width="0.06" font-size="5.49" text-anchor="end">0.0</text>
<line x1="408.1" y1="386.85" x2="411.1" y2="386.85" stroke="#000" stroke-width="1"/>
<text x="405.2" y="388.77" stroke="#231f20" stroke-width="0.06" font-size="5.49" text-anchor="end">0.5</text>
<line x1="408.1" y1="368.7" x2="411.1" y2="368.7" stroke="#000" stroke-width="1"/>
<text x="405.2" y="370.62" stroke="#231f20" stroke-width="0.06" font-size="5.49" text-anchor="end">1.0</text>
<line x1="408.1" y1="350.55" x2="411.1" y2="350.55" stroke="#000" stroke-width="1"/>
<text x="405.2" y="352.47" stroke="#231f20" stroke-width="0.06" font-size="5.49" text-anchor="end">1.5</text>
<line x1="419.5" y1="405" x2="419.5" y2="408" stroke="#000" stroke-width="1"/>
<line x1="431.5" y1="405" x2="431.5" y2="408" stroke="#000" stroke-width="1"/>
<line x1="443.5" y1="405" x2="443.5" y2="408" stroke="#000" stroke-width="1"/>
<line x1="455.6" y1="405" x2="455.6" y2="408" stroke="#000" stroke-width="1"/>
<rect x="415.2" y="368.7" width="8.4" height="36.3" fill="#a6002b"/>
<line x1="419.4" y1="368.7" x2="419.4" y2="366.16" stroke="#a6002b" stroke-width="0.8"/>
<line x1="417.65" y1="366.16" x2="421.15" y2="366.16" stroke="#a6002b" stroke-width="0.8"/>
<rect x="427.2" y="365.07" width="8.3" height="39.93" fill="#2c4b80"/>
<line x1="431.35" y1="365.07" x2="431.35" y2="363.07" stroke="#2c4b80" stroke-width="0.8"/>
<line x1="429.6" y1="363.07" x2="433.1" y2="363.07" stroke="#2c4b80" stroke-width="0.8"/>
<rect x="439.5" y="368.7" width="8.1" height="36.3" fill="#a6002b"/>
<line x1="443.55" y1="368.7" x2="443.55" y2="365.8" stroke="#a6002b" stroke-width="0.8"/>
<line x1="441.8" y1="365.8" x2="445.3" y2="365.8" stroke="#a6002b" stroke-width="0.8"/>
<rect x="451.5" y="365.07" width="8" height="39.93" fill="#2c4b80"/>
<line x1="455.5" y1="365.07" x2="455.5" y2="363.44" stroke="#2c4b80" stroke-width="0.8"/>
<line x1="453.75" y1="363.44" x2="457.25" y2="363.44" stroke="#2c4b80" stroke-width="0.8"/>
<line x1="415.5" y1="411.3" x2="434.8" y2="411.3" stroke="#222" stroke-width="1"/>
<line x1="439.9" y1="411.3" x2="459.1" y2="411.3" stroke="#222" stroke-width="1"/>
<text x="423.8" y="419.88" stroke="#231f20" stroke-width="0.06" textLength="9.5" lengthAdjust="spacingAndGlyphs" font-size="5.94" text-anchor="middle">24h</text>
<text x="449.4" y="419.88" stroke="#231f20" stroke-width="0.06" textLength="9.5" lengthAdjust="spacingAndGlyphs" font-size="5.94" text-anchor="middle">48h</text>
<text x="0" y="2.67" stroke="#231f20" stroke-width="0.14" textLength="71.4" lengthAdjust="spacingAndGlyphs" font-size="7.62" text-anchor="middle" transform="translate(379.4 375.8) rotate(-90)">MitoSox (MFI) in Dendra2-</text>
<text x="0" y="2.67" stroke="#231f20" stroke-width="0.14" textLength="62" lengthAdjust="spacingAndGlyphs" font-size="7.62" text-anchor="middle" transform="translate(389 375.5) rotate(-90)">mito<tspan font-size="3.8" dy="-2.2">+</tspan><tspan dy="2.2">/PDGFR&#945;</tspan><tspan font-size="3.8" dy="-2.2">+</tspan><tspan dy="2.2"> cells</tspan></text>
<text x="7.2" y="460" font-weight="bold" fill="#000" font-size="12.5" stroke="#000" stroke-width="0.3">N</text>
<line x1="61.4" y1="464.3" x2="69.3" y2="464.3" stroke="#c0223e" stroke-width="1"/>
<circle cx="65.3" cy="464.3" r="1.1" fill="#c0223e"/>
<text x="71.9" y="466.5" stroke="#231f20" stroke-width="0.08" textLength="32.7" lengthAdjust="spacingAndGlyphs" font-size="6.27">WT chimeras</text>
<line x1="61.4" y1="472.5" x2="69.3" y2="472.5" stroke="#3566a8" stroke-width="1"/>
<path d="M65.3 471.2 L66.4 473.2 L64.2 473.2 Z" fill="#3566a8"/>
<text x="71.9" y="474.7" stroke="#231f20" stroke-width="0.08" textLength="47.4" lengthAdjust="spacingAndGlyphs" font-size="6.27">H-Cx43<tspan font-size="3.3" dy="-1.8">f/f</tspan><tspan dy="1.8"> chimeras</tspan></text>
<line x1="55.4" y1="487" x2="55.4" y2="546.27" stroke="#000" stroke-width="1.35"/>
<line x1="54.73" y1="545.6" x2="125.7" y2="545.6" stroke="#000" stroke-width="1.35"/>
<line x1="52.4" y1="545.6" x2="55.4" y2="545.6" stroke="#000" stroke-width="1"/>
<text x="49.5" y="547.52" stroke="#231f20" stroke-width="0.06" font-size="5.49" text-anchor="end">0</text>
<line x1="52.4" y1="531.45" x2="55.4" y2="531.45" stroke="#000" stroke-width="1"/>
<text x="49.5" y="533.37" stroke="#231f20" stroke-width="0.06" font-size="5.49" text-anchor="end">10</text>
<line x1="52.4" y1="517.3" x2="55.4" y2="517.3" stroke="#000" stroke-width="1"/>
<text x="49.5" y="519.22" stroke="#231f20" stroke-width="0.06" font-size="5.49" text-anchor="end">20</text>
<line x1="52.4" y1="503.15" x2="55.4" y2="503.15" stroke="#000" stroke-width="1"/>
<text x="49.5" y="505.07" stroke="#231f20" stroke-width="0.06" font-size="5.49" text-anchor="end">30</text>
<line x1="52.4" y1="489" x2="55.4" y2="489" stroke="#000" stroke-width="1"/>
<text x="49.5" y="490.92" stroke="#231f20" stroke-width="0.06" font-size="5.49" text-anchor="end">40</text>
<line x1="55.6" y1="545.6" x2="55.6" y2="548.6" stroke="#000" stroke-width="1"/>
<line x1="72.5" y1="545.6" x2="72.5" y2="548.6" stroke="#000" stroke-width="1"/>
<line x1="89.4" y1="545.6" x2="89.4" y2="548.6" stroke="#000" stroke-width="1"/>
<line x1="106.4" y1="545.6" x2="106.4" y2="548.6" stroke="#000" stroke-width="1"/>
<line x1="123.3" y1="545.6" x2="123.3" y2="548.6" stroke="#000" stroke-width="1"/>
<text x="55.6" y="557.16" stroke="#231f20" stroke-width="0.06" font-size="5.6" text-anchor="middle">0</text>
<text x="72.5" y="557.16" stroke="#231f20" stroke-width="0.06" font-size="5.6" text-anchor="middle">20</text>
<text x="89.4" y="557.16" stroke="#231f20" stroke-width="0.06" font-size="5.6" text-anchor="middle">40</text>
<text x="106.4" y="557.16" stroke="#231f20" stroke-width="0.06" font-size="5.6" text-anchor="middle">60</text>
<text x="123.3" y="557.16" stroke="#231f20" stroke-width="0.06" font-size="5.6" text-anchor="middle">80</text>
<text x="90.7" y="566.57" stroke="#231f20" stroke-width="0.08" textLength="26.5" lengthAdjust="spacingAndGlyphs" font-size="6.5" text-anchor="middle">Time (min)</text>
<line x1="68.7" y1="489" x2="68.7" y2="545" stroke="#111" stroke-width="1.5" stroke-dasharray="1.9 1.3"/>
<line x1="85.3" y1="489" x2="85.3" y2="545" stroke="#111" stroke-width="1.5" stroke-dasharray="1.9 1.3"/>
<line x1="101.4" y1="489" x2="101.4" y2="545" stroke="#111" stroke-width="1.5" stroke-dasharray="1.9 1.3"/>
<text x="69.6" y="484.7" stroke="#231f20" stroke-width="0.08" textLength="28" lengthAdjust="spacingAndGlyphs" font-size="6.27" text-anchor="middle">Oligomycin</text>
<text x="90.2" y="489.5" stroke="#231f20" stroke-width="0.08" textLength="13.8" lengthAdjust="spacingAndGlyphs" font-size="6.27" text-anchor="middle">FCCP</text>
<text x="118.5" y="483.7" stroke="#231f20" stroke-width="0.08" textLength="27.8" lengthAdjust="spacingAndGlyphs" font-size="6.27" text-anchor="middle">Rotenone/</text>
<text x="118.5" y="490.8" stroke="#231f20" stroke-width="0.08" textLength="31" lengthAdjust="spacingAndGlyphs" font-size="6.27" text-anchor="middle">Antimycin A</text>
<polyline points="56.1,518.8 61.8,518.1 67.3,518.1 72.8,533 78.4,534 83.9,534.4 88.9,513.8 94.4,515.7 100.2,517.1 105.5,536.6 110.9,536 116.3,536.6" fill="none" stroke="#3566a8" stroke-width="1.1"/>
<line x1="56.1" y1="517.3" x2="56.1" y2="520.3" stroke="#3566a8" stroke-width="0.6"/>
<line x1="55.2" y1="517.3" x2="57" y2="517.3" stroke="#3566a8" stroke-width="0.6"/>
<line x1="55.2" y1="520.3" x2="57" y2="520.3" stroke="#3566a8" stroke-width="0.6"/>
<path d="M56.1 517.7 l1 1.7 l-2 0 Z" fill="#3566a8"/>
<line x1="61.8" y1="516.6" x2="61.8" y2="519.6" stroke="#3566a8" stroke-width="0.6"/>
<line x1="60.9" y1="516.6" x2="62.7" y2="516.6" stroke="#3566a8" stroke-width="0.6"/>
<line x1="60.9" y1="519.6" x2="62.7" y2="519.6" stroke="#3566a8" stroke-width="0.6"/>
<path d="M61.8 517 l1 1.7 l-2 0 Z" fill="#3566a8"/>
<line x1="67.3" y1="516.6" x2="67.3" y2="519.6" stroke="#3566a8" stroke-width="0.6"/>
<line x1="66.4" y1="516.6" x2="68.2" y2="516.6" stroke="#3566a8" stroke-width="0.6"/>
<line x1="66.4" y1="519.6" x2="68.2" y2="519.6" stroke="#3566a8" stroke-width="0.6"/>
<path d="M67.3 517 l1 1.7 l-2 0 Z" fill="#3566a8"/>
<line x1="72.8" y1="531.5" x2="72.8" y2="534.5" stroke="#3566a8" stroke-width="0.6"/>
<line x1="71.9" y1="531.5" x2="73.7" y2="531.5" stroke="#3566a8" stroke-width="0.6"/>
<line x1="71.9" y1="534.5" x2="73.7" y2="534.5" stroke="#3566a8" stroke-width="0.6"/>
<path d="M72.8 531.9 l1 1.7 l-2 0 Z" fill="#3566a8"/>
<line x1="78.4" y1="532.5" x2="78.4" y2="535.5" stroke="#3566a8" stroke-width="0.6"/>
<line x1="77.5" y1="532.5" x2="79.3" y2="532.5" stroke="#3566a8" stroke-width="0.6"/>
<line x1="77.5" y1="535.5" x2="79.3" y2="535.5" stroke="#3566a8" stroke-width="0.6"/>
<path d="M78.4 532.9 l1 1.7 l-2 0 Z" fill="#3566a8"/>
<line x1="83.9" y1="533.2" x2="83.9" y2="535.6" stroke="#3566a8" stroke-width="0.6"/>
<line x1="83" y1="533.2" x2="84.8" y2="533.2" stroke="#3566a8" stroke-width="0.6"/>
<line x1="83" y1="535.6" x2="84.8" y2="535.6" stroke="#3566a8" stroke-width="0.6"/>
<path d="M83.9 533.3 l1 1.7 l-2 0 Z" fill="#3566a8"/>
<line x1="88.9" y1="510" x2="88.9" y2="517.6" stroke="#3566a8" stroke-width="0.6"/>
<line x1="88" y1="510" x2="89.8" y2="510" stroke="#3566a8" stroke-width="0.6"/>
<line x1="88" y1="517.6" x2="89.8" y2="517.6" stroke="#3566a8" stroke-width="0.6"/>
<path d="M88.9 512.7 l1 1.7 l-2 0 Z" fill="#3566a8"/>
<line x1="94.4" y1="512.9" x2="94.4" y2="518.5" stroke="#3566a8" stroke-width="0.6"/>
<line x1="93.5" y1="512.9" x2="95.3" y2="512.9" stroke="#3566a8" stroke-width="0.6"/>
<line x1="93.5" y1="518.5" x2="95.3" y2="518.5" stroke="#3566a8" stroke-width="0.6"/>
<path d="M94.4 514.6 l1 1.7 l-2 0 Z" fill="#3566a8"/>
<line x1="100.2" y1="514.5" x2="100.2" y2="519.7" stroke="#3566a8" stroke-width="0.6"/>
<line x1="99.3" y1="514.5" x2="101.1" y2="514.5" stroke="#3566a8" stroke-width="0.6"/>
<line x1="99.3" y1="519.7" x2="101.1" y2="519.7" stroke="#3566a8" stroke-width="0.6"/>
<path d="M100.2 516 l1 1.7 l-2 0 Z" fill="#3566a8"/>
<line x1="105.5" y1="535.4" x2="105.5" y2="537.8" stroke="#3566a8" stroke-width="0.6"/>
<line x1="104.6" y1="535.4" x2="106.4" y2="535.4" stroke="#3566a8" stroke-width="0.6"/>
<line x1="104.6" y1="537.8" x2="106.4" y2="537.8" stroke="#3566a8" stroke-width="0.6"/>
<path d="M105.5 535.5 l1 1.7 l-2 0 Z" fill="#3566a8"/>
<line x1="110.9" y1="535" x2="110.9" y2="537" stroke="#3566a8" stroke-width="0.6"/>
<line x1="110" y1="535" x2="111.8" y2="535" stroke="#3566a8" stroke-width="0.6"/>
<line x1="110" y1="537" x2="111.8" y2="537" stroke="#3566a8" stroke-width="0.6"/>
<path d="M110.9 534.9 l1 1.7 l-2 0 Z" fill="#3566a8"/>
<line x1="116.3" y1="535.4" x2="116.3" y2="537.8" stroke="#3566a8" stroke-width="0.6"/>
<line x1="115.4" y1="535.4" x2="117.2" y2="535.4" stroke="#3566a8" stroke-width="0.6"/>
<line x1="115.4" y1="537.8" x2="117.2" y2="537.8" stroke="#3566a8" stroke-width="0.6"/>
<path d="M116.3 535.5 l1 1.7 l-2 0 Z" fill="#3566a8"/>
<polyline points="56.1,514.8 61.8,515.5 67.3,516 72.8,531.5 78.4,532.6 83.9,531.8 88.9,501.3 94.4,504.7 100.2,508 105.5,536.9 110.9,536.2 116.3,536.9" fill="none" stroke="#c0223e" stroke-width="1.3"/>
<line x1="56.1" y1="509.8" x2="56.1" y2="519.8" stroke="#c0223e" stroke-width="0.6"/>
<line x1="55.2" y1="509.8" x2="57" y2="509.8" stroke="#c0223e" stroke-width="0.6"/>
<line x1="55.2" y1="519.8" x2="57" y2="519.8" stroke="#c0223e" stroke-width="0.6"/>
<circle cx="56.1" cy="514.8" r="1" fill="#c0223e"/>
<line x1="61.8" y1="511.9" x2="61.8" y2="519.1" stroke="#c0223e" stroke-width="0.6"/>
<line x1="60.9" y1="511.9" x2="62.7" y2="511.9" stroke="#c0223e" stroke-width="0.6"/>
<line x1="60.9" y1="519.1" x2="62.7" y2="519.1" stroke="#c0223e" stroke-width="0.6"/>
<circle cx="61.8" cy="515.5" r="1" fill="#c0223e"/>
<line x1="67.3" y1="512" x2="67.3" y2="520" stroke="#c0223e" stroke-width="0.6"/>
<line x1="66.4" y1="512" x2="68.2" y2="512" stroke="#c0223e" stroke-width="0.6"/>
<line x1="66.4" y1="520" x2="68.2" y2="520" stroke="#c0223e" stroke-width="0.6"/>
<circle cx="67.3" cy="516" r="1" fill="#c0223e"/>
<line x1="72.8" y1="528.7" x2="72.8" y2="534.3" stroke="#c0223e" stroke-width="0.6"/>
<line x1="71.9" y1="528.7" x2="73.7" y2="528.7" stroke="#c0223e" stroke-width="0.6"/>
<line x1="71.9" y1="534.3" x2="73.7" y2="534.3" stroke="#c0223e" stroke-width="0.6"/>
<circle cx="72.8" cy="531.5" r="1" fill="#c0223e"/>
<line x1="78.4" y1="529.1" x2="78.4" y2="536.1" stroke="#c0223e" stroke-width="0.6"/>
<line x1="77.5" y1="529.1" x2="79.3" y2="529.1" stroke="#c0223e" stroke-width="0.6"/>
<line x1="77.5" y1="536.1" x2="79.3" y2="536.1" stroke="#c0223e" stroke-width="0.6"/>
<circle cx="78.4" cy="532.6" r="1" fill="#c0223e"/>
<line x1="83.9" y1="529.6" x2="83.9" y2="534" stroke="#c0223e" stroke-width="0.6"/>
<line x1="83" y1="529.6" x2="84.8" y2="529.6" stroke="#c0223e" stroke-width="0.6"/>
<line x1="83" y1="534" x2="84.8" y2="534" stroke="#c0223e" stroke-width="0.6"/>
<circle cx="83.9" cy="531.8" r="1" fill="#c0223e"/>
<line x1="88.9" y1="500.1" x2="88.9" y2="502.5" stroke="#c0223e" stroke-width="0.6"/>
<line x1="88" y1="500.1" x2="89.8" y2="500.1" stroke="#c0223e" stroke-width="0.6"/>
<line x1="88" y1="502.5" x2="89.8" y2="502.5" stroke="#c0223e" stroke-width="0.6"/>
<circle cx="88.9" cy="501.3" r="1" fill="#c0223e"/>
<line x1="94.4" y1="503.5" x2="94.4" y2="505.9" stroke="#c0223e" stroke-width="0.6"/>
<line x1="93.5" y1="503.5" x2="95.3" y2="503.5" stroke="#c0223e" stroke-width="0.6"/>
<line x1="93.5" y1="505.9" x2="95.3" y2="505.9" stroke="#c0223e" stroke-width="0.6"/>
<circle cx="94.4" cy="504.7" r="1" fill="#c0223e"/>
<line x1="100.2" y1="506.8" x2="100.2" y2="509.2" stroke="#c0223e" stroke-width="0.6"/>
<line x1="99.3" y1="506.8" x2="101.1" y2="506.8" stroke="#c0223e" stroke-width="0.6"/>
<line x1="99.3" y1="509.2" x2="101.1" y2="509.2" stroke="#c0223e" stroke-width="0.6"/>
<circle cx="100.2" cy="508" r="1" fill="#c0223e"/>
<line x1="105.5" y1="534.7" x2="105.5" y2="539.1" stroke="#c0223e" stroke-width="0.6"/>
<line x1="104.6" y1="534.7" x2="106.4" y2="534.7" stroke="#c0223e" stroke-width="0.6"/>
<line x1="104.6" y1="539.1" x2="106.4" y2="539.1" stroke="#c0223e" stroke-width="0.6"/>
<circle cx="105.5" cy="536.9" r="1" fill="#c0223e"/>
<line x1="110.9" y1="535.2" x2="110.9" y2="537.2" stroke="#c0223e" stroke-width="0.6"/>
<line x1="110" y1="535.2" x2="111.8" y2="535.2" stroke="#c0223e" stroke-width="0.6"/>
<line x1="110" y1="537.2" x2="111.8" y2="537.2" stroke="#c0223e" stroke-width="0.6"/>
<circle cx="110.9" cy="536.2" r="1" fill="#c0223e"/>
<line x1="116.3" y1="534.7" x2="116.3" y2="539.1" stroke="#c0223e" stroke-width="0.6"/>
<line x1="115.4" y1="534.7" x2="117.2" y2="534.7" stroke="#c0223e" stroke-width="0.6"/>
<line x1="115.4" y1="539.1" x2="117.2" y2="539.1" stroke="#c0223e" stroke-width="0.6"/>
<circle cx="116.3" cy="536.9" r="1" fill="#c0223e"/>
<text x="0" y="2.35" stroke="#231f20" stroke-width="0.08" textLength="12" lengthAdjust="spacingAndGlyphs" font-size="6.72" text-anchor="middle" transform="translate(24.9 516.3) rotate(-90)">OCR</text>
<text x="0" y="2.67" stroke="#231f20" stroke-width="0.14" textLength="68.4" lengthAdjust="spacingAndGlyphs" font-size="7.62" text-anchor="middle" transform="translate(34.4 515.8) rotate(-90)">(pmol/min/50,000 cells)</text>
<text x="150.8" y="459.8" font-weight="bold" fill="#000" font-size="12.5" stroke="#000" stroke-width="0.3">O</text>
<rect x="192.9" y="463.5" width="3" height="3" fill="#a6002b"/>
<rect x="192.9" y="470.6" width="3" height="3" fill="#2c4b80"/>
<text x="198.3" y="467.12" stroke="#231f20" stroke-width="0.06" textLength="33" lengthAdjust="spacingAndGlyphs" font-size="6.05">WT chimeras</text>
<text x="198.3" y="474.22" stroke="#231f20" stroke-width="0.06" textLength="48.5" lengthAdjust="spacingAndGlyphs" font-size="6.05">H-Cx43<tspan font-size="3.3" dy="-1.8">f/f</tspan><tspan dy="1.8"> chimeras</tspan></text>
<line x1="183.5" y1="486.9" x2="183.5" y2="546.38" stroke="#000" stroke-width="1.35"/>
<line x1="182.82" y1="545.7" x2="255.4" y2="545.7" stroke="#000" stroke-width="1.35"/>
<line x1="180.5" y1="545.7" x2="183.5" y2="545.7" stroke="#000" stroke-width="1"/>
<text x="177.6" y="547.62" stroke="#231f20" stroke-width="0.06" font-size="5.49" text-anchor="end">0</text>
<line x1="180.5" y1="534.46" x2="183.5" y2="534.46" stroke="#000" stroke-width="1"/>
<text x="177.6" y="536.38" stroke="#231f20" stroke-width="0.06" font-size="5.49" text-anchor="end">5</text>
<line x1="180.5" y1="523.22" x2="183.5" y2="523.22" stroke="#000" stroke-width="1"/>
<text x="177.6" y="525.14" stroke="#231f20" stroke-width="0.06" font-size="5.49" text-anchor="end">10</text>
<line x1="180.5" y1="511.98" x2="183.5" y2="511.98" stroke="#000" stroke-width="1"/>
<text x="177.6" y="513.9" stroke="#231f20" stroke-width="0.06" font-size="5.49" text-anchor="end">15</text>
<line x1="180.5" y1="500.74" x2="183.5" y2="500.74" stroke="#000" stroke-width="1"/>
<text x="177.6" y="502.66" stroke="#231f20" stroke-width="0.06" font-size="5.49" text-anchor="end">20</text>
<line x1="180.5" y1="489.5" x2="183.5" y2="489.5" stroke="#000" stroke-width="1"/>
<text x="177.6" y="491.42" stroke="#231f20" stroke-width="0.06" font-size="5.49" text-anchor="end">25</text>
<line x1="189.4" y1="545.7" x2="189.4" y2="548.7" stroke="#000" stroke-width="1"/>
<line x1="201.5" y1="545.7" x2="201.5" y2="548.7" stroke="#000" stroke-width="1"/>
<line x1="213.4" y1="545.7" x2="213.4" y2="548.7" stroke="#000" stroke-width="1"/>
<line x1="225.3" y1="545.7" x2="225.3" y2="548.7" stroke="#000" stroke-width="1"/>
<line x1="237.4" y1="545.7" x2="237.4" y2="548.7" stroke="#000" stroke-width="1"/>
<line x1="249.4" y1="545.7" x2="249.4" y2="548.7" stroke="#000" stroke-width="1"/>
<rect x="185.6" y="514.68" width="3.6" height="31.02" fill="#a6002b"/>
<line x1="187.4" y1="514.68" x2="187.4" y2="511.76" stroke="#a6002b" stroke-width="0.8"/>
<line x1="186.4" y1="511.76" x2="188.4" y2="511.76" stroke="#a6002b" stroke-width="0.8"/>
<rect x="190" y="518.5" width="3.3" height="27.2" fill="#2c4b80"/>
<line x1="191.65" y1="518.5" x2="191.65" y2="517.6" stroke="#2c4b80" stroke-width="0.8"/>
<line x1="190.65" y1="517.6" x2="192.65" y2="517.6" stroke="#2c4b80" stroke-width="0.8"/>
<rect x="197.7" y="503.44" width="3.6" height="42.26" fill="#a6002b"/>
<line x1="199.5" y1="503.44" x2="199.5" y2="499.39" stroke="#a6002b" stroke-width="0.8"/>
<line x1="198.5" y1="499.39" x2="200.5" y2="499.39" stroke="#a6002b" stroke-width="0.8"/>
<rect x="202.1" y="516.25" width="3.3" height="29.45" fill="#2c4b80"/>
<line x1="203.75" y1="516.25" x2="203.75" y2="513.33" stroke="#2c4b80" stroke-width="0.8"/>
<line x1="202.75" y1="513.33" x2="204.75" y2="513.33" stroke="#2c4b80" stroke-width="0.8"/>
<rect x="209.6" y="529.96" width="3.6" height="15.74" fill="#a6002b"/>
<line x1="211.4" y1="529.96" x2="211.4" y2="526.59" stroke="#a6002b" stroke-width="0.8"/>
<line x1="210.4" y1="526.59" x2="212.4" y2="526.59" stroke="#a6002b" stroke-width="0.8"/>
<rect x="214" y="540.53" width="3.3" height="5.17" fill="#2c4b80"/>
<line x1="215.65" y1="540.53" x2="215.65" y2="539.18" stroke="#2c4b80" stroke-width="0.8"/>
<line x1="214.65" y1="539.18" x2="216.65" y2="539.18" stroke="#2c4b80" stroke-width="0.8"/>
<rect x="221.5" y="539.18" width="3.6" height="6.52" fill="#a6002b"/>
<line x1="223.3" y1="539.18" x2="223.3" y2="538.28" stroke="#a6002b" stroke-width="0.8"/>
<line x1="222.3" y1="538.28" x2="224.3" y2="538.28" stroke="#a6002b" stroke-width="0.8"/>
<rect x="225.9" y="541.2" width="3.3" height="4.5" fill="#2c4b80"/>
<line x1="227.55" y1="541.2" x2="227.55" y2="540.75" stroke="#2c4b80" stroke-width="0.8"/>
<line x1="226.55" y1="540.75" x2="228.55" y2="540.75" stroke="#2c4b80" stroke-width="0.8"/>
<rect x="233.6" y="521.87" width="3.6" height="23.83" fill="#a6002b"/>
<line x1="235.4" y1="521.87" x2="235.4" y2="519.4" stroke="#a6002b" stroke-width="0.8"/>
<line x1="234.4" y1="519.4" x2="236.4" y2="519.4" stroke="#a6002b" stroke-width="0.8"/>
<rect x="238" y="523.22" width="3.3" height="22.48" fill="#2c4b80"/>
<line x1="239.65" y1="523.22" x2="239.65" y2="522.32" stroke="#2c4b80" stroke-width="0.8"/>
<line x1="238.65" y1="522.32" x2="240.65" y2="522.32" stroke="#2c4b80" stroke-width="0.8"/>
<rect x="245.6" y="538.06" width="3.6" height="7.64" fill="#a6002b"/>
<line x1="247.4" y1="538.06" x2="247.4" y2="537.38" stroke="#a6002b" stroke-width="0.8"/>
<line x1="246.4" y1="537.38" x2="248.4" y2="537.38" stroke="#a6002b" stroke-width="0.8"/>
<rect x="250" y="542.33" width="3.3" height="3.37" fill="#2c4b80"/>
<line x1="251.65" y1="542.33" x2="251.65" y2="541.88" stroke="#2c4b80" stroke-width="0.8"/>
<line x1="250.65" y1="541.88" x2="252.65" y2="541.88" stroke="#2c4b80" stroke-width="0.8"/>
<line x1="199.2" y1="496.3" x2="204.1" y2="496.3" stroke="#222" stroke-width="0.9"/>
<text x="201.65" y="496.92" stroke="#231f20" stroke-width="0.06" font-size="6.05" text-anchor="middle">*</text>
<line x1="211" y1="523.8" x2="215.5" y2="523.8" stroke="#222" stroke-width="0.9"/>
<text x="213.25" y="524.42" stroke="#231f20" stroke-width="0.06" font-size="6.05" text-anchor="middle">*</text>
<line x1="247.4" y1="534.8" x2="251.8" y2="534.8" stroke="#222" stroke-width="0.9"/>
<text x="249.6" y="535.42" stroke="#231f20" stroke-width="0.06" font-size="6.05" text-anchor="middle">*</text>
<text x="0" y="2.35" stroke="#231f20" stroke-width="0.08" textLength="11.6" lengthAdjust="spacingAndGlyphs" font-size="6.72" text-anchor="middle" transform="translate(153.6 516.6) rotate(-90)">OCR</text>
<text x="0" y="2.67" stroke="#231f20" stroke-width="0.14" textLength="68.4" lengthAdjust="spacingAndGlyphs" font-size="7.62" text-anchor="middle" transform="translate(163.2 515.8) rotate(-90)">(pmol/min/50,000 cells)</text>
<text x="0" y="2.12" stroke="#231f20" stroke-width="0.06" textLength="13" lengthAdjust="spacingAndGlyphs" font-size="6.05" text-anchor="end" transform="translate(192 551.5) rotate(-45)">Basal</text>
<text x="0" y="2.12" stroke="#231f20" stroke-width="0.06" textLength="19" lengthAdjust="spacingAndGlyphs" font-size="6.05" text-anchor="end" transform="translate(204.1 551.5) rotate(-45)">Maximal</text>
<text x="0" y="2.12" stroke="#231f20" stroke-width="0.06" textLength="9.5" lengthAdjust="spacingAndGlyphs" font-size="6.05" text-anchor="end" transform="translate(216 551.5) rotate(-45)">SRC</text>
<text x="0" y="2.12" stroke="#231f20" stroke-width="0.06" textLength="27" lengthAdjust="spacingAndGlyphs" font-size="6.05" text-anchor="end" transform="translate(227.9 551.5) rotate(-45)">Proton leak</text>
<text x="0" y="2.12" stroke="#231f20" stroke-width="0.06" textLength="26" lengthAdjust="spacingAndGlyphs" font-size="6.05" text-anchor="end" transform="translate(240 551.5) rotate(-45)">ATP-linked</text>
<text x="0" y="2.12" stroke="#231f20" stroke-width="0.06" textLength="8" lengthAdjust="spacingAndGlyphs" font-size="6.05" text-anchor="end" transform="translate(252 551.5) rotate(-45)">BHI</text>
<rect x="0.5" y="0.5" width="519" height="583" fill="none" stroke="#000" stroke-width="1"/>
</svg>
</body></html>
